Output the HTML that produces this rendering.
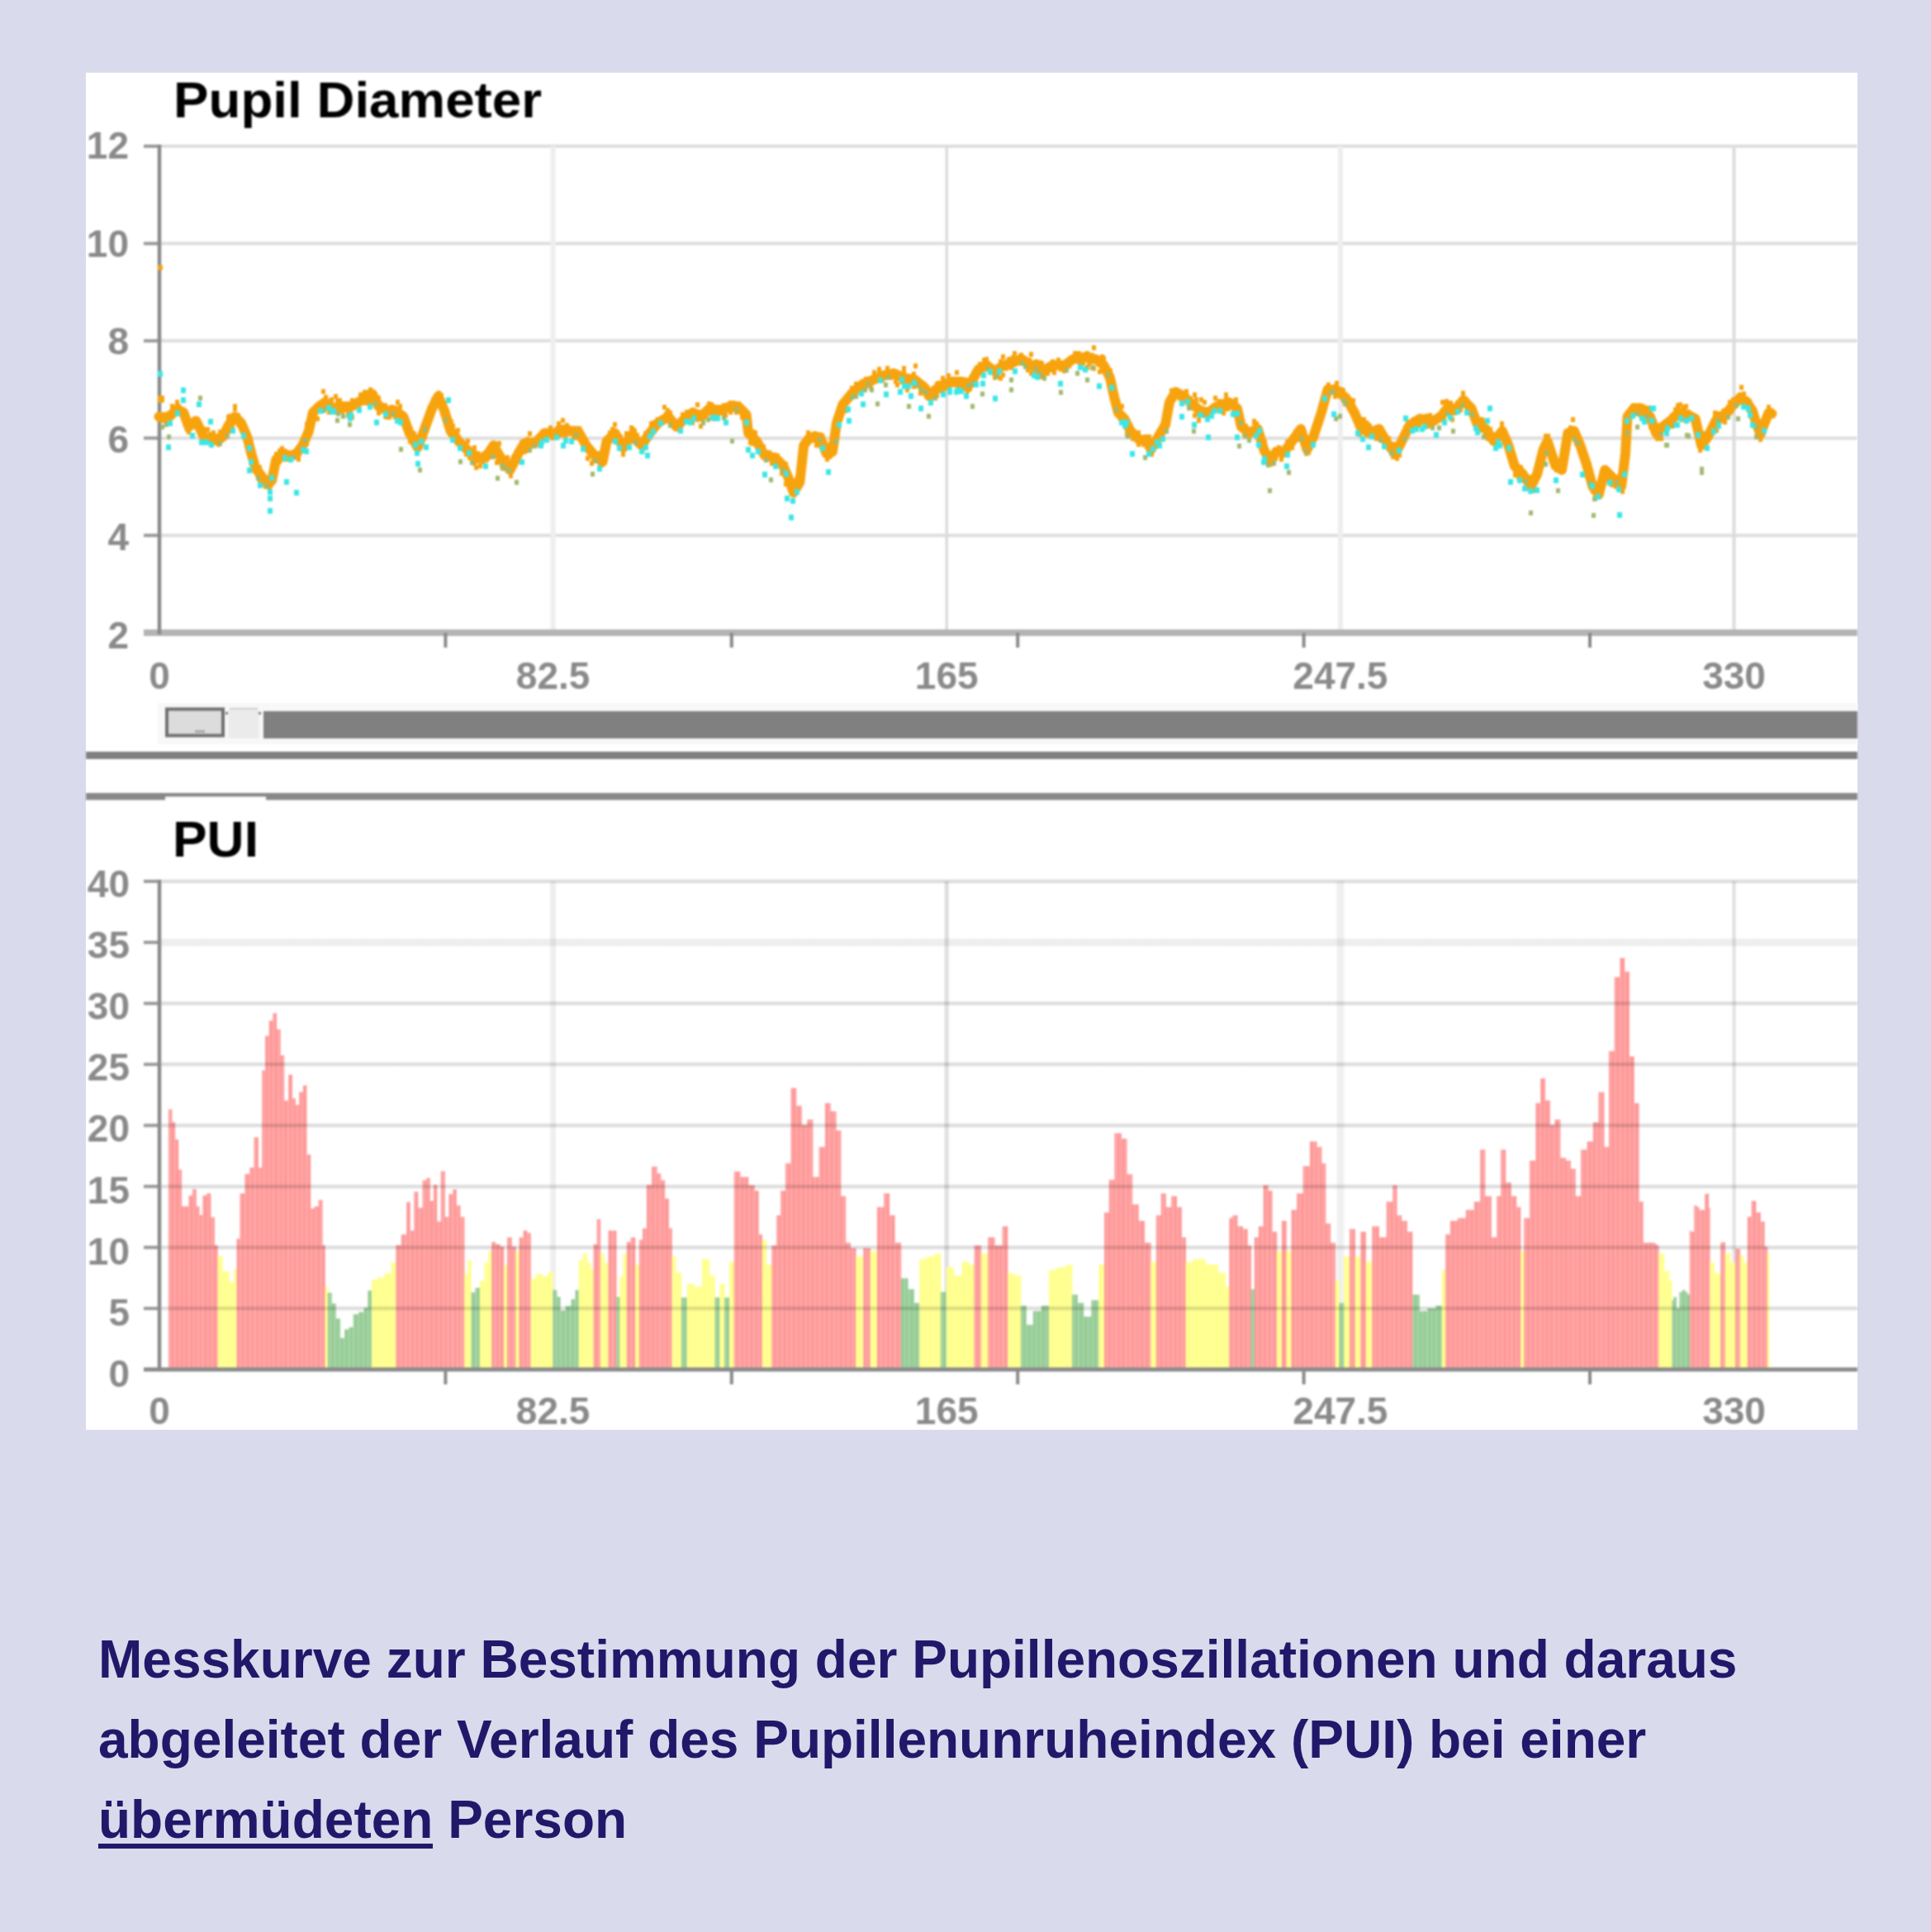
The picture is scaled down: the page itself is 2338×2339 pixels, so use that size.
<!DOCTYPE html><html><head><meta charset="utf-8"><style>
html,body{margin:0;padding:0;background:#DADAED;width:2338px;height:2339px;overflow:hidden}
svg{position:absolute;left:0;top:0;filter:blur(1px)}
.cap{position:absolute;left:119px;top:1961px;width:2150px;font:bold 64px/96.8px "Liberation Sans",sans-serif;color:#22186a;white-space:nowrap}
.cap u{text-decoration:none}
.ul{position:absolute;left:119px;top:2232px;width:405px;height:6px;background:#22186a}
</style></head><body>
<div style="position:absolute;left:104px;top:88px;width:2145px;height:1643px;background:#fff"></div>
<svg width="2338" height="2339" viewBox="0 0 2338 2339">

<line x1="193" y1="177.0" x2="2249" y2="177.0" stroke="#dedede" stroke-width="4"/>
<line x1="174" y1="177.0" x2="193" y2="177.0" stroke="#9a9a9a" stroke-width="4"/>
<line x1="193" y1="294.8" x2="2249" y2="294.8" stroke="#dedede" stroke-width="4"/>
<line x1="174" y1="294.8" x2="193" y2="294.8" stroke="#9a9a9a" stroke-width="4"/>
<line x1="193" y1="412.6" x2="2249" y2="412.6" stroke="#dedede" stroke-width="4"/>
<line x1="174" y1="412.6" x2="193" y2="412.6" stroke="#9a9a9a" stroke-width="4"/>
<line x1="193" y1="530.4" x2="2249" y2="530.4" stroke="#dedede" stroke-width="4"/>
<line x1="174" y1="530.4" x2="193" y2="530.4" stroke="#9a9a9a" stroke-width="4"/>
<line x1="193" y1="648.2" x2="2249" y2="648.2" stroke="#dedede" stroke-width="4"/>
<line x1="174" y1="648.2" x2="193" y2="648.2" stroke="#9a9a9a" stroke-width="4"/>
<line x1="669.6" y1="177" x2="669.6" y2="766" stroke="#eeeeee" stroke-width="6"/>
<line x1="1146.2" y1="177" x2="1146.2" y2="766" stroke="#dcdcdc" stroke-width="3.5"/>
<line x1="1622.9" y1="177" x2="1622.9" y2="766" stroke="#eeeeee" stroke-width="6"/>
<line x1="2099.5" y1="177" x2="2099.5" y2="766" stroke="#dcdcdc" stroke-width="4"/>
<line x1="174" y1="766" x2="2249" y2="766" stroke="#b4b4b4" stroke-width="8"/>
<line x1="193" y1="175" x2="193" y2="768" stroke="#8a8a8a" stroke-width="4.5"/>
<line x1="539.4" y1="766" x2="539.4" y2="784" stroke="#8a8a8a" stroke-width="4"/>
<line x1="885.8" y1="766" x2="885.8" y2="784" stroke="#8a8a8a" stroke-width="4"/>
<line x1="1232.2" y1="766" x2="1232.2" y2="784" stroke="#8a8a8a" stroke-width="4"/>
<line x1="1578.6" y1="766" x2="1578.6" y2="784" stroke="#8a8a8a" stroke-width="4"/>
<line x1="1925.0" y1="766" x2="1925.0" y2="784" stroke="#8a8a8a" stroke-width="4"/>
<text x="156" y="192.0" text-anchor="end" font-family="Liberation Sans" font-weight="bold" font-size="46" fill="#8a8a8a">12</text>
<text x="156" y="310.6" text-anchor="end" font-family="Liberation Sans" font-weight="bold" font-size="46" fill="#8a8a8a">10</text>
<text x="156" y="429.2" text-anchor="end" font-family="Liberation Sans" font-weight="bold" font-size="46" fill="#8a8a8a">8</text>
<text x="156" y="547.8" text-anchor="end" font-family="Liberation Sans" font-weight="bold" font-size="46" fill="#8a8a8a">6</text>
<text x="156" y="666.4" text-anchor="end" font-family="Liberation Sans" font-weight="bold" font-size="46" fill="#8a8a8a">4</text>
<text x="156" y="785.0" text-anchor="end" font-family="Liberation Sans" font-weight="bold" font-size="46" fill="#8a8a8a">2</text>
<text x="193.0" y="834" text-anchor="middle" font-family="Liberation Sans" font-weight="bold" font-size="46" fill="#8a8a8a">0</text>
<text x="669.6" y="834" text-anchor="middle" font-family="Liberation Sans" font-weight="bold" font-size="46" fill="#8a8a8a">82.5</text>
<text x="1146.2" y="834" text-anchor="middle" font-family="Liberation Sans" font-weight="bold" font-size="46" fill="#8a8a8a">165</text>
<text x="1622.9" y="834" text-anchor="middle" font-family="Liberation Sans" font-weight="bold" font-size="46" fill="#8a8a8a">247.5</text>
<text x="2099.5" y="834" text-anchor="middle" font-family="Liberation Sans" font-weight="bold" font-size="46" fill="#8a8a8a">330</text>
<text x="210" y="142" font-family="Liberation Sans" font-weight="bold" font-size="61" textLength="446" lengthAdjust="spacingAndGlyphs" fill="#000">Pupil Diameter</text>
<rect x="191" y="851" width="2058" height="50" fill="#f8f8f8"/>
<rect x="319" y="861" width="1930" height="33" fill="#808080"/>
<rect x="202" y="858.5" width="68" height="32" fill="#dcdcdc" stroke="#707070" stroke-width="4"/>
<rect x="276.5" y="858" width="37" height="36" rx="3" fill="#ebebeb"/>
<rect x="278" y="857" width="34" height="2" fill="#cfcfcf"/>
<rect x="273" y="862" width="3" height="3" fill="#808080"/><rect x="313" y="862" width="3" height="3" fill="#808080"/>
<rect x="236" y="884" width="12" height="3" fill="#a8a8a8"/>
<rect x="104" y="910" width="2145" height="9" fill="#808080"/>
<rect x="104" y="960" width="2145" height="4.5" fill="#888"/>
<rect x="104" y="964" width="96" height="4.5" fill="#888"/>
<rect x="322" y="964" width="1927" height="4.5" fill="#888"/>
<line x1="669.6" y1="1067" x2="669.6" y2="1658" stroke="#eeeeee" stroke-width="7"/>
<line x1="1146.2" y1="1067" x2="1146.2" y2="1658" stroke="#dddddd" stroke-width="5"/>
<line x1="1622.9" y1="1067" x2="1622.9" y2="1658" stroke="#efefef" stroke-width="9"/>
<line x1="2099.5" y1="1067" x2="2099.5" y2="1658" stroke="#e0e0e0" stroke-width="4"/>
<g fill-opacity="0.92"><rect x="204.0" y="1342.9" width="4.4" height="315.1" fill="#ff8f8f"/><rect x="208.1" y="1358.6" width="4.2" height="299.4" fill="#ff8f8f"/><rect x="212.0" y="1379.5" width="4.2" height="278.5" fill="#ff8f8f"/><rect x="215.9" y="1416.1" width="4.2" height="241.9" fill="#ff8f8f"/><rect x="219.8" y="1460.5" width="4.2" height="197.5" fill="#ff8f8f"/><rect x="223.7" y="1460.5" width="4.9" height="197.5" fill="#ff8f8f"/><rect x="228.3" y="1447.4" width="4.9" height="210.6" fill="#ff8f8f"/><rect x="232.9" y="1439.6" width="4.9" height="218.4" fill="#ff8f8f"/><rect x="237.5" y="1460.5" width="4.2" height="197.5" fill="#ff8f8f"/><rect x="241.4" y="1470.9" width="4.2" height="187.1" fill="#ff8f8f"/><rect x="245.3" y="1447.4" width="4.9" height="210.6" fill="#ff8f8f"/><rect x="249.9" y="1444.8" width="5.5" height="213.2" fill="#ff8f8f"/><rect x="255.1" y="1473.6" width="4.9" height="184.4" fill="#ff8f8f"/><rect x="259.7" y="1507.5" width="4.2" height="150.5" fill="#ff8f8f"/><rect x="263.6" y="1520.6" width="6.2" height="137.4" fill="#ffff80"/><rect x="269.5" y="1538.9" width="8.1" height="119.1" fill="#ffff80"/><rect x="277.3" y="1552.0" width="6.2" height="106.0" fill="#ffff80"/><rect x="283.2" y="1536.3" width="3.6" height="121.7" fill="#ffff80"/><rect x="286.5" y="1499.7" width="4.2" height="158.3" fill="#ff8f8f"/><rect x="290.4" y="1444.8" width="6.2" height="213.2" fill="#ff8f8f"/><rect x="296.3" y="1421.3" width="6.2" height="236.7" fill="#ff8f8f"/><rect x="302.1" y="1413.5" width="5.5" height="244.5" fill="#ff8f8f"/><rect x="307.4" y="1376.9" width="5.5" height="281.1" fill="#ff8f8f"/><rect x="312.6" y="1413.5" width="4.9" height="244.5" fill="#ff8f8f"/><rect x="317.2" y="1295.9" width="4.2" height="362.1" fill="#ff8f8f"/><rect x="321.1" y="1254.1" width="4.9" height="403.9" fill="#ff8f8f"/><rect x="325.6" y="1235.8" width="4.9" height="422.2" fill="#ff8f8f"/><rect x="330.2" y="1226.6" width="4.9" height="431.4" fill="#ff8f8f"/><rect x="334.8" y="1246.2" width="4.9" height="411.8" fill="#ff8f8f"/><rect x="339.4" y="1277.6" width="4.9" height="380.4" fill="#ff8f8f"/><rect x="343.9" y="1332.5" width="5.5" height="325.5" fill="#ff8f8f"/><rect x="349.2" y="1301.1" width="4.9" height="356.9" fill="#ff8f8f"/><rect x="353.7" y="1329.8" width="4.2" height="328.2" fill="#ff8f8f"/><rect x="357.7" y="1337.7" width="4.9" height="320.3" fill="#ff8f8f"/><rect x="362.2" y="1322.0" width="4.9" height="336.0" fill="#ff8f8f"/><rect x="366.8" y="1314.2" width="4.9" height="343.8" fill="#ff8f8f"/><rect x="371.4" y="1397.8" width="4.9" height="260.2" fill="#ff8f8f"/><rect x="376.0" y="1463.1" width="4.9" height="194.9" fill="#ff8f8f"/><rect x="380.5" y="1460.5" width="5.5" height="197.5" fill="#ff8f8f"/><rect x="385.7" y="1452.7" width="4.9" height="205.3" fill="#ff8f8f"/><rect x="390.3" y="1507.5" width="3.6" height="150.5" fill="#ff8f8f"/><rect x="393.6" y="1557.2" width="3.6" height="100.8" fill="#ffff80"/><rect x="396.9" y="1565.0" width="4.9" height="93.0" fill="#8cc88c"/><rect x="401.4" y="1578.1" width="5.5" height="79.9" fill="#8cc88c"/><rect x="406.7" y="1596.4" width="5.5" height="61.6" fill="#8cc88c"/><rect x="411.9" y="1619.9" width="5.5" height="38.1" fill="#8cc88c"/><rect x="417.1" y="1609.4" width="5.5" height="48.6" fill="#8cc88c"/><rect x="422.3" y="1606.8" width="5.5" height="51.2" fill="#8cc88c"/><rect x="427.6" y="1591.1" width="6.8" height="66.9" fill="#8cc88c"/><rect x="434.1" y="1588.5" width="6.8" height="69.5" fill="#8cc88c"/><rect x="440.6" y="1583.3" width="4.9" height="74.7" fill="#8cc88c"/><rect x="445.2" y="1562.4" width="4.9" height="95.6" fill="#8cc88c"/><rect x="449.8" y="1549.3" width="7.5" height="108.7" fill="#ffff80"/><rect x="457.0" y="1546.7" width="8.8" height="111.3" fill="#ffff80"/><rect x="465.4" y="1541.5" width="8.1" height="116.5" fill="#ffff80"/><rect x="473.3" y="1528.4" width="6.2" height="129.6" fill="#ffff80"/><rect x="479.2" y="1507.5" width="6.8" height="150.5" fill="#ff8f8f"/><rect x="485.7" y="1494.5" width="6.8" height="163.5" fill="#ff8f8f"/><rect x="492.2" y="1455.3" width="4.7" height="202.7" fill="#ff8f8f"/><rect x="496.7" y="1489.8" width="4.9" height="168.2" fill="#ff8f8f"/><rect x="501.2" y="1442.8" width="5.1" height="215.2" fill="#ff8f8f"/><rect x="506.1" y="1462.2" width="5.8" height="195.8" fill="#ff8f8f"/><rect x="511.6" y="1428.9" width="5.1" height="229.1" fill="#ff8f8f"/><rect x="516.5" y="1426.2" width="4.5" height="231.8" fill="#ff8f8f"/><rect x="520.6" y="1453.9" width="4.5" height="204.1" fill="#ff8f8f"/><rect x="524.8" y="1434.5" width="4.5" height="223.5" fill="#ff8f8f"/><rect x="528.9" y="1478.8" width="5.1" height="179.2" fill="#ff8f8f"/><rect x="533.8" y="1417.9" width="5.1" height="240.1" fill="#ff8f8f"/><rect x="538.6" y="1473.2" width="5.1" height="184.8" fill="#ff8f8f"/><rect x="543.4" y="1445.6" width="5.1" height="212.4" fill="#ff8f8f"/><rect x="548.3" y="1440.0" width="4.5" height="218.0" fill="#ff8f8f"/><rect x="552.4" y="1459.4" width="5.1" height="198.6" fill="#ff8f8f"/><rect x="557.3" y="1473.2" width="5.1" height="184.8" fill="#ff8f8f"/><rect x="562.1" y="1542.4" width="4.5" height="115.6" fill="#ffff80"/><rect x="566.3" y="1525.8" width="4.5" height="132.2" fill="#ffff80"/><rect x="570.4" y="1564.6" width="5.1" height="93.4" fill="#8cc88c"/><rect x="575.3" y="1559.0" width="5.8" height="99.0" fill="#8cc88c"/><rect x="580.8" y="1550.7" width="5.8" height="107.3" fill="#ffff80"/><rect x="586.3" y="1528.6" width="5.1" height="129.4" fill="#ffff80"/><rect x="591.2" y="1514.8" width="4.5" height="143.2" fill="#ffff80"/><rect x="595.3" y="1503.7" width="5.1" height="154.3" fill="#ff8f8f"/><rect x="600.2" y="1506.4" width="5.8" height="151.6" fill="#ff8f8f"/><rect x="605.7" y="1509.2" width="4.5" height="148.8" fill="#ff8f8f"/><rect x="609.9" y="1531.4" width="4.5" height="126.6" fill="#ffff80"/><rect x="614.0" y="1498.1" width="5.8" height="159.9" fill="#ff8f8f"/><rect x="619.6" y="1509.2" width="5.1" height="148.8" fill="#ff8f8f"/><rect x="624.4" y="1514.8" width="4.5" height="143.2" fill="#ffff80"/><rect x="628.6" y="1498.1" width="5.1" height="159.9" fill="#ff8f8f"/><rect x="633.4" y="1489.8" width="5.1" height="168.2" fill="#ff8f8f"/><rect x="638.2" y="1492.6" width="4.5" height="165.4" fill="#ff8f8f"/><rect x="642.4" y="1548.0" width="6.5" height="110.0" fill="#ffff80"/><rect x="648.6" y="1542.4" width="8.6" height="115.6" fill="#ffff80"/><rect x="656.9" y="1545.2" width="7.2" height="112.8" fill="#ffff80"/><rect x="663.8" y="1539.7" width="5.8" height="118.3" fill="#ffff80"/><rect x="669.4" y="1561.8" width="5.1" height="96.2" fill="#8cc88c"/><rect x="674.2" y="1570.1" width="4.5" height="87.9" fill="#8cc88c"/><rect x="678.4" y="1586.7" width="6.5" height="71.3" fill="#8cc88c"/><rect x="684.6" y="1581.2" width="7.2" height="76.8" fill="#8cc88c"/><rect x="691.5" y="1572.9" width="5.1" height="85.1" fill="#8cc88c"/><rect x="696.4" y="1561.8" width="4.5" height="96.2" fill="#8cc88c"/><rect x="700.5" y="1525.8" width="5.1" height="132.2" fill="#ffff80"/><rect x="705.4" y="1517.5" width="5.8" height="140.5" fill="#ffff80"/><rect x="710.9" y="1528.6" width="4.5" height="129.4" fill="#ffff80"/><rect x="715.1" y="1536.9" width="3.8" height="121.1" fill="#ffff80"/><rect x="718.5" y="1506.4" width="4.5" height="151.6" fill="#ff8f8f"/><rect x="722.7" y="1476.0" width="4.5" height="182.0" fill="#ff8f8f"/><rect x="726.8" y="1517.5" width="5.1" height="140.5" fill="#ffff80"/><rect x="731.7" y="1528.6" width="5.1" height="129.4" fill="#ffff80"/><rect x="736.5" y="1489.8" width="5.1" height="168.2" fill="#ff8f8f"/><rect x="741.4" y="1489.8" width="5.1" height="168.2" fill="#ff8f8f"/><rect x="746.2" y="1570.1" width="4.5" height="87.9" fill="#8cc88c"/><rect x="750.3" y="1545.2" width="4.5" height="112.8" fill="#ffff80"/><rect x="754.5" y="1517.5" width="4.5" height="140.5" fill="#ffff80"/><rect x="758.7" y="1503.7" width="5.1" height="154.3" fill="#ff8f8f"/><rect x="763.5" y="1498.1" width="5.8" height="159.9" fill="#ff8f8f"/><rect x="769.0" y="1531.4" width="5.1" height="126.6" fill="#ffff80"/><rect x="773.9" y="1500.9" width="4.5" height="157.1" fill="#ff8f8f"/><rect x="778.0" y="1487.1" width="5.1" height="170.9" fill="#ff8f8f"/><rect x="782.9" y="1434.5" width="6.5" height="223.5" fill="#ff8f8f"/><rect x="789.1" y="1412.3" width="6.5" height="245.7" fill="#ff8f8f"/><rect x="795.3" y="1420.6" width="5.1" height="237.4" fill="#ff8f8f"/><rect x="800.2" y="1428.9" width="5.1" height="229.1" fill="#ff8f8f"/><rect x="805.0" y="1451.1" width="5.1" height="206.9" fill="#ff8f8f"/><rect x="809.9" y="1487.1" width="3.9" height="170.9" fill="#ff8f8f"/><rect x="813.5" y="1521.1" width="5.1" height="136.9" fill="#ffff80"/><rect x="818.3" y="1540.9" width="6.9" height="117.1" fill="#ffff80"/><rect x="824.9" y="1570.8" width="6.9" height="87.2" fill="#8cc88c"/><rect x="831.6" y="1554.2" width="8.6" height="103.8" fill="#ffff80"/><rect x="839.9" y="1557.5" width="10.2" height="100.5" fill="#ffff80"/><rect x="849.8" y="1524.4" width="9.4" height="133.6" fill="#ffff80"/><rect x="858.9" y="1544.2" width="6.9" height="113.8" fill="#ffff80"/><rect x="865.5" y="1570.8" width="6.1" height="87.2" fill="#8cc88c"/><rect x="871.3" y="1554.2" width="6.1" height="103.8" fill="#ffff80"/><rect x="877.1" y="1570.8" width="6.1" height="87.2" fill="#8cc88c"/><rect x="882.9" y="1527.7" width="6.1" height="130.3" fill="#ffff80"/><rect x="888.7" y="1418.3" width="7.8" height="239.7" fill="#ff8f8f"/><rect x="896.2" y="1424.9" width="10.2" height="233.1" fill="#ff8f8f"/><rect x="906.1" y="1434.9" width="7.8" height="223.1" fill="#ff8f8f"/><rect x="913.6" y="1441.5" width="5.3" height="216.5" fill="#ff8f8f"/><rect x="918.6" y="1494.5" width="4.4" height="163.5" fill="#ff8f8f"/><rect x="922.7" y="1501.2" width="5.3" height="156.8" fill="#ffff80"/><rect x="927.7" y="1531.0" width="6.9" height="127.0" fill="#ffff80"/><rect x="934.3" y="1507.8" width="6.1" height="150.2" fill="#ff8f8f"/><rect x="940.1" y="1471.3" width="5.3" height="186.7" fill="#ff8f8f"/><rect x="945.1" y="1441.5" width="6.1" height="216.5" fill="#ff8f8f"/><rect x="950.9" y="1408.4" width="6.9" height="249.6" fill="#ff8f8f"/><rect x="957.5" y="1317.2" width="6.9" height="340.8" fill="#ff8f8f"/><rect x="964.1" y="1338.8" width="6.9" height="319.2" fill="#ff8f8f"/><rect x="970.8" y="1362.0" width="6.9" height="296.0" fill="#ff8f8f"/><rect x="977.4" y="1355.4" width="6.9" height="302.6" fill="#ff8f8f"/><rect x="984.0" y="1424.9" width="7.8" height="233.1" fill="#ff8f8f"/><rect x="991.5" y="1388.5" width="7.8" height="269.5" fill="#ff8f8f"/><rect x="998.9" y="1335.5" width="6.9" height="322.5" fill="#ff8f8f"/><rect x="1005.6" y="1345.4" width="6.9" height="312.6" fill="#ff8f8f"/><rect x="1012.2" y="1368.6" width="6.1" height="289.4" fill="#ff8f8f"/><rect x="1018.0" y="1448.1" width="6.1" height="209.9" fill="#ff8f8f"/><rect x="1023.8" y="1504.5" width="6.1" height="153.5" fill="#ff8f8f"/><rect x="1029.6" y="1511.1" width="6.9" height="146.9" fill="#ff8f8f"/><rect x="1036.2" y="1521.1" width="9.4" height="136.9" fill="#ffff80"/><rect x="1045.3" y="1511.1" width="8.6" height="146.9" fill="#ff8f8f"/><rect x="1053.6" y="1514.4" width="8.6" height="143.6" fill="#ffff80"/><rect x="1061.9" y="1461.4" width="8.6" height="196.6" fill="#ff8f8f"/><rect x="1070.2" y="1444.8" width="6.9" height="213.2" fill="#ff8f8f"/><rect x="1076.8" y="1471.3" width="6.9" height="186.7" fill="#ff8f8f"/><rect x="1083.4" y="1504.5" width="7.8" height="153.5" fill="#ff8f8f"/><rect x="1090.9" y="1547.6" width="8.6" height="110.4" fill="#8cc88c"/><rect x="1099.2" y="1560.8" width="7.8" height="97.2" fill="#8cc88c"/><rect x="1106.6" y="1577.4" width="6.9" height="80.6" fill="#8cc88c"/><rect x="1113.3" y="1524.4" width="8.6" height="133.6" fill="#ffff80"/><rect x="1121.5" y="1521.1" width="10.2" height="136.9" fill="#ffff80"/><rect x="1131.5" y="1517.7" width="7.8" height="140.3" fill="#ffff80"/><rect x="1138.9" y="1564.1" width="6.9" height="93.9" fill="#8cc88c"/><rect x="1145.6" y="1534.3" width="9.4" height="123.7" fill="#ffff80"/><rect x="1154.7" y="1544.2" width="10.2" height="113.8" fill="#ffff80"/><rect x="1164.6" y="1527.7" width="8.6" height="130.3" fill="#ffff80"/><rect x="1172.9" y="1531.0" width="6.9" height="127.0" fill="#ffff80"/><rect x="1179.5" y="1507.8" width="8.6" height="150.2" fill="#ff8f8f"/><rect x="1187.8" y="1517.7" width="8.6" height="140.3" fill="#ffff80"/><rect x="1196.1" y="1497.9" width="8.6" height="160.1" fill="#ff8f8f"/><rect x="1204.4" y="1507.8" width="9.4" height="150.2" fill="#ff8f8f"/><rect x="1213.5" y="1484.6" width="6.9" height="173.4" fill="#ff8f8f"/><rect x="1220.1" y="1540.9" width="7.8" height="117.1" fill="#ffff80"/><rect x="1227.6" y="1544.2" width="8.6" height="113.8" fill="#ffff80"/><rect x="1235.9" y="1580.7" width="6.9" height="77.3" fill="#8cc88c"/><rect x="1242.5" y="1603.9" width="8.6" height="54.1" fill="#8cc88c"/><rect x="1250.8" y="1587.3" width="10.2" height="70.7" fill="#8cc88c"/><rect x="1260.7" y="1580.7" width="9.4" height="77.3" fill="#8cc88c"/><rect x="1269.8" y="1537.6" width="10.2" height="120.4" fill="#ffff80"/><rect x="1279.8" y="1534.3" width="11.1" height="123.7" fill="#ffff80"/><rect x="1290.6" y="1531.0" width="7.8" height="127.0" fill="#ffff80"/><rect x="1298.0" y="1567.4" width="6.9" height="90.6" fill="#8cc88c"/><rect x="1304.6" y="1577.4" width="7.8" height="80.6" fill="#8cc88c"/><rect x="1312.1" y="1594.0" width="9.4" height="64.0" fill="#8cc88c"/><rect x="1321.2" y="1574.1" width="9.4" height="83.9" fill="#8cc88c"/><rect x="1330.3" y="1531.0" width="6.9" height="127.0" fill="#ffff80"/><rect x="1337.0" y="1468.0" width="6.1" height="190.0" fill="#ff8f8f"/><rect x="1342.8" y="1428.3" width="6.9" height="229.7" fill="#ff8f8f"/><rect x="1349.4" y="1371.9" width="8.6" height="286.1" fill="#ff8f8f"/><rect x="1357.7" y="1378.5" width="6.9" height="279.5" fill="#ff8f8f"/><rect x="1364.3" y="1421.6" width="6.9" height="236.4" fill="#ff8f8f"/><rect x="1370.9" y="1458.1" width="7.8" height="199.9" fill="#ff8f8f"/><rect x="1378.4" y="1478.0" width="7.8" height="180.0" fill="#ff8f8f"/><rect x="1385.8" y="1504.5" width="7.8" height="153.5" fill="#ff8f8f"/><rect x="1393.3" y="1527.7" width="6.9" height="130.3" fill="#ffff80"/><rect x="1399.9" y="1471.3" width="6.1" height="186.7" fill="#ff8f8f"/><rect x="1405.7" y="1444.8" width="6.1" height="213.2" fill="#ff8f8f"/><rect x="1411.5" y="1461.4" width="6.9" height="196.6" fill="#ff8f8f"/><rect x="1418.1" y="1448.1" width="6.9" height="209.9" fill="#ff8f8f"/><rect x="1424.8" y="1461.4" width="6.1" height="196.6" fill="#ff8f8f"/><rect x="1430.6" y="1497.9" width="5.3" height="160.1" fill="#ff8f8f"/><rect x="1435.5" y="1527.7" width="9.4" height="130.3" fill="#ffff80"/><rect x="1444.7" y="1524.4" width="15.4" height="133.6" fill="#ffff80"/><rect x="1459.8" y="1531.0" width="15.4" height="127.0" fill="#ffff80"/><rect x="1474.9" y="1540.9" width="9.4" height="117.1" fill="#ffff80"/><rect x="1484.0" y="1557.5" width="4.4" height="100.5" fill="#ffff80"/><rect x="1488.1" y="1474.7" width="4.4" height="183.3" fill="#ff8f8f"/><rect x="1492.3" y="1471.3" width="6.1" height="186.7" fill="#ff8f8f"/><rect x="1498.1" y="1484.6" width="6.9" height="173.4" fill="#ff8f8f"/><rect x="1504.7" y="1487.9" width="6.1" height="170.1" fill="#ff8f8f"/><rect x="1510.5" y="1507.8" width="4.4" height="150.2" fill="#ff8f8f"/><rect x="1514.7" y="1560.8" width="4.4" height="97.2" fill="#8cc88c"/><rect x="1518.8" y="1497.9" width="5.3" height="160.1" fill="#ff8f8f"/><rect x="1523.8" y="1484.6" width="6.1" height="173.4" fill="#ff8f8f"/><rect x="1529.6" y="1434.9" width="6.1" height="223.1" fill="#ff8f8f"/><rect x="1535.4" y="1441.5" width="5.3" height="216.5" fill="#ff8f8f"/><rect x="1540.3" y="1491.2" width="6.1" height="166.8" fill="#ff8f8f"/><rect x="1546.1" y="1514.4" width="6.1" height="143.6" fill="#ffff80"/><rect x="1551.9" y="1478.0" width="6.1" height="180.0" fill="#ff8f8f"/><rect x="1557.7" y="1514.4" width="6.1" height="143.6" fill="#ffff80"/><rect x="1563.5" y="1464.7" width="6.9" height="193.3" fill="#ff8f8f"/><rect x="1570.2" y="1444.8" width="7.8" height="213.2" fill="#ff8f8f"/><rect x="1577.6" y="1411.7" width="8.6" height="246.3" fill="#ff8f8f"/><rect x="1585.9" y="1381.9" width="8.6" height="276.1" fill="#ff8f8f"/><rect x="1594.2" y="1388.5" width="6.1" height="269.5" fill="#ff8f8f"/><rect x="1600.0" y="1408.4" width="5.3" height="249.6" fill="#ff8f8f"/><rect x="1605.0" y="1481.3" width="6.1" height="176.7" fill="#ff8f8f"/><rect x="1610.8" y="1504.5" width="6.1" height="153.5" fill="#ff8f8f"/><rect x="1616.6" y="1550.9" width="5.3" height="107.1" fill="#ffff80"/><rect x="1621.5" y="1577.4" width="6.1" height="80.6" fill="#8cc88c"/><rect x="1627.3" y="1521.1" width="6.9" height="136.9" fill="#ffff80"/><rect x="1634.0" y="1487.9" width="6.9" height="170.1" fill="#ff8f8f"/><rect x="1640.6" y="1521.1" width="6.9" height="136.9" fill="#ffff80"/><rect x="1647.2" y="1491.2" width="6.9" height="166.8" fill="#ff8f8f"/><rect x="1653.8" y="1527.7" width="7.8" height="130.3" fill="#ffff80"/><rect x="1661.3" y="1484.6" width="8.6" height="173.4" fill="#ff8f8f"/><rect x="1669.6" y="1497.9" width="9.4" height="160.1" fill="#ff8f8f"/><rect x="1678.7" y="1454.8" width="7.8" height="203.2" fill="#ff8f8f"/><rect x="1686.2" y="1434.9" width="5.3" height="223.1" fill="#ff8f8f"/><rect x="1691.1" y="1471.3" width="6.1" height="186.7" fill="#ff8f8f"/><rect x="1696.9" y="1478.0" width="6.9" height="180.0" fill="#ff8f8f"/><rect x="1703.5" y="1491.2" width="6.9" height="166.8" fill="#ff8f8f"/><rect x="1710.2" y="1567.4" width="8.6" height="90.6" fill="#8cc88c"/><rect x="1718.5" y="1587.3" width="10.2" height="70.7" fill="#8cc88c"/><rect x="1728.4" y="1584.0" width="10.2" height="74.0" fill="#8cc88c"/><rect x="1738.3" y="1580.7" width="7.8" height="77.3" fill="#8cc88c"/><rect x="1745.8" y="1537.6" width="4.4" height="120.4" fill="#ffff80"/><rect x="1749.9" y="1494.5" width="6.1" height="163.5" fill="#ff8f8f"/><rect x="1755.7" y="1478.0" width="9.4" height="180.0" fill="#ff8f8f"/><rect x="1764.9" y="1474.7" width="10.2" height="183.3" fill="#ff8f8f"/><rect x="1774.8" y="1464.7" width="10.2" height="193.3" fill="#ff8f8f"/><rect x="1784.7" y="1454.8" width="7.8" height="203.2" fill="#ff8f8f"/><rect x="1792.2" y="1391.8" width="6.1" height="266.2" fill="#ff8f8f"/><rect x="1798.0" y="1448.1" width="7.8" height="209.9" fill="#ff8f8f"/><rect x="1805.5" y="1497.9" width="6.9" height="160.1" fill="#ff8f8f"/><rect x="1812.1" y="1448.1" width="5.3" height="209.9" fill="#ff8f8f"/><rect x="1817.1" y="1391.8" width="6.1" height="266.2" fill="#ff8f8f"/><rect x="1822.9" y="1431.6" width="6.9" height="226.4" fill="#ff8f8f"/><rect x="1829.5" y="1448.1" width="6.9" height="209.9" fill="#ff8f8f"/><rect x="1836.1" y="1461.4" width="5.3" height="196.6" fill="#ff8f8f"/><rect x="1841.1" y="1514.4" width="4.4" height="143.6" fill="#ffff80"/><rect x="1845.2" y="1474.7" width="6.9" height="183.3" fill="#ff8f8f"/><rect x="1851.9" y="1405.1" width="7.8" height="252.9" fill="#ff8f8f"/><rect x="1859.3" y="1335.5" width="6.1" height="322.5" fill="#ff8f8f"/><rect x="1865.1" y="1305.6" width="6.1" height="352.4" fill="#ff8f8f"/><rect x="1870.9" y="1332.2" width="6.1" height="325.8" fill="#ff8f8f"/><rect x="1876.7" y="1362.0" width="6.1" height="296.0" fill="#ff8f8f"/><rect x="1882.5" y="1355.4" width="6.9" height="302.6" fill="#ff8f8f"/><rect x="1889.1" y="1401.7" width="6.9" height="256.3" fill="#ff8f8f"/><rect x="1895.8" y="1405.1" width="6.1" height="252.9" fill="#ff8f8f"/><rect x="1901.6" y="1415.0" width="6.1" height="243.0" fill="#ff8f8f"/><rect x="1907.4" y="1448.1" width="6.9" height="209.9" fill="#ff8f8f"/><rect x="1914.0" y="1391.8" width="7.8" height="266.2" fill="#ff8f8f"/><rect x="1921.4" y="1381.9" width="7.8" height="276.1" fill="#ff8f8f"/><rect x="1928.9" y="1358.7" width="6.9" height="299.3" fill="#ff8f8f"/><rect x="1935.5" y="1322.2" width="6.9" height="335.8" fill="#ff8f8f"/><rect x="1942.2" y="1388.5" width="6.1" height="269.5" fill="#ff8f8f"/><rect x="1948.0" y="1272.5" width="6.9" height="385.5" fill="#ff8f8f"/><rect x="1954.6" y="1183.0" width="6.9" height="475.0" fill="#ff8f8f"/><rect x="1961.2" y="1159.8" width="6.1" height="498.2" fill="#ff8f8f"/><rect x="1967.0" y="1176.4" width="6.1" height="481.6" fill="#ff8f8f"/><rect x="1972.8" y="1279.1" width="6.1" height="378.9" fill="#ff8f8f"/><rect x="1978.6" y="1335.5" width="6.1" height="322.5" fill="#ff8f8f"/><rect x="1984.4" y="1454.8" width="5.3" height="203.2" fill="#ff8f8f"/><rect x="1989.4" y="1504.5" width="7.8" height="153.5" fill="#ff8f8f"/><rect x="1996.8" y="1504.5" width="7.2" height="153.5" fill="#ff8f8f"/><rect x="2003.7" y="1506.4" width="2.8" height="151.6" fill="#ff8f8f"/><rect x="2006.2" y="1507.8" width="2.4" height="150.2" fill="#ff8f8f"/><rect x="2008.3" y="1517.5" width="2.8" height="140.5" fill="#ffff80"/><rect x="2010.7" y="1517.7" width="4.5" height="140.3" fill="#ffff80"/><rect x="2014.9" y="1539.7" width="3.6" height="118.3" fill="#ffff80"/><rect x="2018.2" y="1537.6" width="3.1" height="120.4" fill="#ffff80"/><rect x="2021.0" y="1550.7" width="3.6" height="107.3" fill="#ffff80"/><rect x="2024.3" y="1574.1" width="2.4" height="83.9" fill="#8cc88c"/><rect x="2026.4" y="1570.1" width="3.7" height="87.9" fill="#8cc88c"/><rect x="2029.8" y="1584.0" width="3.9" height="74.0" fill="#8cc88c"/><rect x="2033.4" y="1564.1" width="3.8" height="93.9" fill="#8cc88c"/><rect x="2036.9" y="1561.8" width="3.6" height="96.2" fill="#8cc88c"/><rect x="2040.2" y="1564.1" width="3.1" height="93.9" fill="#8cc88c"/><rect x="2043.0" y="1567.3" width="3.1" height="90.7" fill="#8cc88c"/><rect x="2045.7" y="1489.8" width="2.2" height="168.2" fill="#ff8f8f"/><rect x="2047.7" y="1491.2" width="3.8" height="166.8" fill="#ff8f8f"/><rect x="2051.1" y="1459.4" width="3.6" height="198.6" fill="#ff8f8f"/><rect x="2054.4" y="1461.4" width="3.1" height="196.6" fill="#ff8f8f"/><rect x="2057.2" y="1464.9" width="3.6" height="193.1" fill="#ff8f8f"/><rect x="2060.5" y="1464.7" width="3.8" height="193.3" fill="#ff8f8f"/><rect x="2064.0" y="1445.6" width="3.6" height="212.4" fill="#ff8f8f"/><rect x="2067.3" y="1444.8" width="1.7" height="213.2" fill="#ff8f8f"/><rect x="2068.7" y="1462.2" width="2.0" height="195.8" fill="#ff8f8f"/><rect x="2070.3" y="1527.7" width="2.4" height="130.3" fill="#ffff80"/><rect x="2072.4" y="1528.6" width="3.6" height="129.4" fill="#ffff80"/><rect x="2075.7" y="1540.9" width="4.5" height="117.1" fill="#ffff80"/><rect x="2079.9" y="1542.4" width="3.6" height="115.6" fill="#ffff80"/><rect x="2083.2" y="1504.5" width="2.4" height="153.5" fill="#ff8f8f"/><rect x="2085.3" y="1503.7" width="3.7" height="154.3" fill="#ff8f8f"/><rect x="2088.6" y="1517.5" width="6.5" height="140.5" fill="#ffff80"/><rect x="2094.9" y="1528.6" width="6.5" height="129.4" fill="#ffff80"/><rect x="2101.1" y="1512.0" width="5.8" height="146.0" fill="#ff8f8f"/><rect x="2106.6" y="1520.3" width="5.1" height="137.7" fill="#ffff80"/><rect x="2111.5" y="1528.6" width="4.5" height="129.4" fill="#ffff80"/><rect x="2115.6" y="1473.2" width="5.1" height="184.8" fill="#ff8f8f"/><rect x="2120.5" y="1453.9" width="5.8" height="204.1" fill="#ff8f8f"/><rect x="2126.0" y="1467.7" width="5.8" height="190.3" fill="#ff8f8f"/><rect x="2131.5" y="1478.8" width="5.1" height="179.2" fill="#ff8f8f"/><rect x="2136.4" y="1509.2" width="3.8" height="148.8" fill="#ff8f8f"/><rect x="2139.8" y="1517.5" width="2.5" height="140.5" fill="#ffff80"/></g>
<defs><pattern id="stp" width="5.7" height="20" patternUnits="userSpaceOnUse"><rect x="0" width="1.6" height="20" fill="#fff" fill-opacity="0.22"/></pattern></defs>
<rect x="204" y="1140" width="1940" height="518" fill="url(#stp)"/>
<line x1="193" y1="1067.0" x2="2249" y2="1067.0" stroke="#000" stroke-opacity="0.13" stroke-width="4.5"/>
<line x1="174" y1="1067.0" x2="193" y2="1067.0" stroke="#9a9a9a" stroke-width="4"/>
<line x1="193" y1="1140.9" x2="2249" y2="1140.9" stroke="#000" stroke-opacity="0.065" stroke-width="9"/>
<line x1="174" y1="1140.9" x2="193" y2="1140.9" stroke="#9a9a9a" stroke-width="4"/>
<line x1="193" y1="1214.8" x2="2249" y2="1214.8" stroke="#000" stroke-opacity="0.13" stroke-width="4.5"/>
<line x1="174" y1="1214.8" x2="193" y2="1214.8" stroke="#9a9a9a" stroke-width="4"/>
<line x1="193" y1="1288.6" x2="2249" y2="1288.6" stroke="#000" stroke-opacity="0.13" stroke-width="4.5"/>
<line x1="174" y1="1288.6" x2="193" y2="1288.6" stroke="#9a9a9a" stroke-width="4"/>
<line x1="193" y1="1362.5" x2="2249" y2="1362.5" stroke="#000" stroke-opacity="0.13" stroke-width="4.5"/>
<line x1="174" y1="1362.5" x2="193" y2="1362.5" stroke="#9a9a9a" stroke-width="4"/>
<line x1="193" y1="1436.4" x2="2249" y2="1436.4" stroke="#000" stroke-opacity="0.13" stroke-width="4.5"/>
<line x1="174" y1="1436.4" x2="193" y2="1436.4" stroke="#9a9a9a" stroke-width="4"/>
<line x1="193" y1="1510.2" x2="2249" y2="1510.2" stroke="#000" stroke-opacity="0.13" stroke-width="4.5"/>
<line x1="174" y1="1510.2" x2="193" y2="1510.2" stroke="#9a9a9a" stroke-width="4"/>
<line x1="193" y1="1584.1" x2="2249" y2="1584.1" stroke="#000" stroke-opacity="0.13" stroke-width="4.5"/>
<line x1="174" y1="1584.1" x2="193" y2="1584.1" stroke="#9a9a9a" stroke-width="4"/>
<line x1="174" y1="1658" x2="2249" y2="1658" stroke="#8a8a8a" stroke-width="5"/>
<line x1="193" y1="1065" x2="193" y2="1660" stroke="#8a8a8a" stroke-width="4.5"/>
<line x1="539.4" y1="1658" x2="539.4" y2="1676" stroke="#8a8a8a" stroke-width="4"/>
<line x1="885.8" y1="1658" x2="885.8" y2="1676" stroke="#8a8a8a" stroke-width="4"/>
<line x1="1232.2" y1="1658" x2="1232.2" y2="1676" stroke="#8a8a8a" stroke-width="4"/>
<line x1="1578.6" y1="1658" x2="1578.6" y2="1676" stroke="#8a8a8a" stroke-width="4"/>
<line x1="1925.0" y1="1658" x2="1925.0" y2="1676" stroke="#8a8a8a" stroke-width="4"/>
<text x="157" y="1086.0" text-anchor="end" font-family="Liberation Sans" font-weight="bold" font-size="46" fill="#8a8a8a">40</text>
<text x="157" y="1160.1" text-anchor="end" font-family="Liberation Sans" font-weight="bold" font-size="46" fill="#8a8a8a">35</text>
<text x="157" y="1234.2" text-anchor="end" font-family="Liberation Sans" font-weight="bold" font-size="46" fill="#8a8a8a">30</text>
<text x="157" y="1308.3" text-anchor="end" font-family="Liberation Sans" font-weight="bold" font-size="46" fill="#8a8a8a">25</text>
<text x="157" y="1382.4" text-anchor="end" font-family="Liberation Sans" font-weight="bold" font-size="46" fill="#8a8a8a">20</text>
<text x="157" y="1456.5" text-anchor="end" font-family="Liberation Sans" font-weight="bold" font-size="46" fill="#8a8a8a">15</text>
<text x="157" y="1530.6" text-anchor="end" font-family="Liberation Sans" font-weight="bold" font-size="46" fill="#8a8a8a">10</text>
<text x="157" y="1604.7" text-anchor="end" font-family="Liberation Sans" font-weight="bold" font-size="46" fill="#8a8a8a">5</text>
<text x="157" y="1678.8" text-anchor="end" font-family="Liberation Sans" font-weight="bold" font-size="46" fill="#8a8a8a">0</text>
<text x="193.0" y="1724" text-anchor="middle" font-family="Liberation Sans" font-weight="bold" font-size="46" fill="#8a8a8a">0</text>
<text x="669.6" y="1724" text-anchor="middle" font-family="Liberation Sans" font-weight="bold" font-size="46" fill="#8a8a8a">82.5</text>
<text x="1146.2" y="1724" text-anchor="middle" font-family="Liberation Sans" font-weight="bold" font-size="46" fill="#8a8a8a">165</text>
<text x="1622.9" y="1724" text-anchor="middle" font-family="Liberation Sans" font-weight="bold" font-size="46" fill="#8a8a8a">247.5</text>
<text x="2099.5" y="1724" text-anchor="middle" font-family="Liberation Sans" font-weight="bold" font-size="46" fill="#8a8a8a">330</text>
<text x="209" y="1037" font-family="Liberation Sans" font-weight="bold" font-size="62" textLength="104" lengthAdjust="spacingAndGlyphs" fill="#000">PUI</text>
<polyline points="192.5,504.4 194.0,505.0 199.9,506.9 207.4,501.9 214.8,495.7 222.3,499.4 228.5,516.8 237.2,509.4 247.2,529.3 259.6,531.8 269.5,529.3 277.0,514.4 284.4,504.4 291.9,511.9 299.4,529.3 304.3,549.2 309.3,566.6 316.8,576.5 324.2,586.5 329.2,581.5 334.2,556.6 341.6,549.2 351.6,551.6 359.0,549.2 366.5,539.2 373.9,521.8 378.9,499.4 386.4,492.0 393.8,487.0 403.8,494.5 413.7,492.0 423.7,492.0 433.6,487.0 443.5,482.0 451.0,477.1 458.5,492.0 468.4,497.0 478.3,497.0 488.3,504.4 495.8,524.3 505.7,541.7 513.2,521.8 523.1,494.5 530.6,479.6 538.0,497.0 545.5,521.8 555.4,534.2 565.4,544.2 577.8,554.1 587.7,554.1 597.7,539.2 607.6,556.6 617.6,569.0 627.5,549.2 635.0,536.7 647.4,536.7 659.8,524.3 669.9,524.3 684.9,521.8 699.8,521.8 709.7,539.2 719.7,551.6 729.6,559.1 734.6,534.2 744.5,524.3 754.5,541.7 764.4,526.8 776.8,539.2 786.8,524.3 796.7,511.9 809.2,504.4 819.1,516.8 829.0,506.9 839.0,499.4 848.9,504.4 858.9,494.5 871.3,497.0 883.7,492.0 893.7,492.0 903.6,501.9 906.1,524.3 916.1,534.2 926.0,551.6 938.4,554.1 948.4,564.1 955.8,581.5 960.8,596.4 968.3,584.0 973.2,539.2 980.7,529.3 993.1,529.3 1000.6,549.2 1008.0,546.7 1013.0,511.9 1020.5,489.5 1032.9,474.6 1045.3,464.6 1057.8,459.7 1070.2,454.7 1082.6,452.2 1092.6,457.2 1107.5,459.7 1119.9,469.6 1124.9,479.6 1132.3,472.1 1139.8,467.1 1152.4,462.1 1164.9,462.1 1174.8,464.6 1184.7,447.2 1194.7,442.3 1204.6,449.7 1214.6,442.3 1224.5,439.8 1237.0,434.8 1249.4,442.3 1261.8,449.7 1274.2,442.3 1289.2,442.3 1299.1,434.8 1314.0,432.3 1326.5,434.8 1336.4,442.3 1343.9,457.2 1348.8,479.6 1353.8,499.4 1361.3,506.9 1368.7,521.8 1378.7,531.8 1388.6,534.2 1393.6,544.2 1403.5,526.8 1411.0,514.4 1415.9,487.0 1423.4,474.6 1433.3,479.6 1443.3,489.5 1453.2,497.0 1463.2,499.4 1473.1,492.0 1488.0,487.0 1498.0,494.5 1503.0,516.8 1512.9,524.3 1522.8,519.3 1530.3,544.2 1537.8,559.1 1545.2,546.7 1555.2,546.7 1562.6,536.7 1575.0,519.3 1582.5,544.2 1590.0,529.3 1599.9,499.4 1607.4,472.1 1617.3,472.1 1629.9,482.0 1639.9,499.4 1647.3,516.8 1657.3,524.3 1669.7,519.3 1679.7,536.7 1689.6,549.2 1697.1,534.2 1707.0,514.4 1719.4,506.9 1731.9,511.9 1744.3,504.4 1754.2,492.0 1761.7,497.0 1771.6,484.5 1781.6,494.5 1789.0,514.4 1799.0,519.3 1808.9,534.2 1818.9,521.8 1826.3,539.2 1833.8,564.1 1843.7,574.0 1853.7,588.9 1861.1,574.0 1868.6,544.2 1873.6,534.2 1883.5,564.1 1891.0,569.0 1898.4,524.3 1905.9,521.8 1913.3,539.2 1920.8,561.6 1928.3,588.9 1935.7,598.9 1943.2,569.0 1953.1,579.0 1963.1,588.9 1968.0,549.2 1970.5,504.4 1978.0,494.5 1987.9,494.5 1997.9,504.4 2005.3,524.3 2012.8,516.8 2022.7,509.4 2032.7,499.4 2042.6,501.9 2052.6,506.9 2060.0,539.2 2067.5,529.3 2077.4,509.4 2087.4,504.4 2096.8,492.1 2106.8,482.1 2114.2,485.9 2121.7,497.1 2126.7,513.2 2131.6,525.7 2136.6,512.0 2141.6,499.6 2145.3,500.8" fill="none" stroke="#f7a30e" stroke-width="12" stroke-linejoin="round" stroke-linecap="round"/>
<path d="M192 501h5v6h-5zM192 505h5v6h-5zM194 502h5v6h-5zM194 501h5v6h-5zM196 499h5v6h-5zM196 502h5v6h-5zM199 509h5v6h-5zM199 505h5v6h-5zM202 507h5v6h-5zM202 502h5v6h-5zM204 502h5v6h-5zM204 500h5v6h-5zM206 489h5v6h-5zM206 502h5v6h-5zM209 498h5v6h-5zM209 498h5v6h-5zM212 485h5v6h-5zM212 484h5v6h-5zM214 489h5v6h-5zM214 491h5v6h-5zM216 496h5v6h-5zM216 495h5v6h-5zM219 499h5v6h-5zM219 493h5v6h-5zM222 503h5v6h-5zM222 503h5v6h-5zM224 505h5v6h-5zM224 517h5v6h-5zM226 516h5v6h-5zM226 520h5v6h-5zM229 508h5v6h-5zM229 507h5v6h-5zM232 507h5v6h-5zM232 509h5v6h-5zM234 510h5v6h-5zM234 508h5v6h-5zM236 508h5v6h-5zM236 505h5v6h-5zM239 512h5v6h-5zM239 521h5v6h-5zM242 516h5v6h-5zM242 521h5v6h-5zM244 527h5v6h-5zM244 517h5v6h-5zM246 527h5v6h-5zM246 533h5v6h-5zM249 517h5v6h-5zM249 525h5v6h-5zM252 527h5v6h-5zM252 523h5v6h-5zM254 531h5v6h-5zM254 528h5v6h-5zM256 521h5v6h-5zM256 533h5v6h-5zM259 532h5v6h-5zM259 533h5v6h-5zM262 535h5v6h-5zM262 530h5v6h-5zM264 528h5v6h-5zM264 520h5v6h-5zM266 530h5v6h-5zM266 523h5v6h-5zM269 520h5v6h-5zM269 516h5v6h-5zM272 512h5v6h-5zM272 515h5v6h-5zM274 519h5v6h-5zM274 502h5v6h-5zM276 501h5v6h-5zM276 510h5v6h-5zM279 513h5v6h-5zM279 508h5v6h-5zM282 492h5v6h-5zM282 489h5v6h-5zM284 505h5v6h-5zM284 500h5v6h-5zM286 500h5v6h-5zM286 511h5v6h-5zM289 514h5v6h-5zM289 509h5v6h-5zM292 515h5v6h-5zM292 516h5v6h-5zM294 528h5v6h-5zM294 523h5v6h-5zM296 528h5v6h-5zM296 528h5v6h-5zM299 527h5v6h-5zM299 542h5v6h-5zM302 550h5v6h-5zM302 548h5v6h-5zM304 543h5v6h-5zM304 550h5v6h-5zM306 567h5v6h-5zM306 553h5v6h-5zM309 566h5v6h-5zM309 572h5v6h-5zM312 563h5v6h-5zM312 578h5v6h-5zM314 576h5v6h-5zM314 572h5v6h-5zM316 578h5v6h-5zM316 580h5v6h-5zM319 580h5v6h-5zM319 586h5v6h-5zM322 580h5v6h-5zM322 581h5v6h-5zM324 587h5v6h-5zM324 581h5v6h-5zM326 574h5v6h-5zM326 584h5v6h-5zM329 575h5v6h-5zM329 565h5v6h-5zM332 547h5v6h-5zM332 554h5v6h-5zM334 551h5v6h-5zM334 550h5v6h-5zM336 556h5v6h-5zM336 543h5v6h-5zM339 553h5v6h-5zM339 540h5v6h-5zM342 543h5v6h-5zM342 550h5v6h-5zM344 553h5v6h-5zM344 552h5v6h-5zM346 550h5v6h-5zM346 549h5v6h-5zM349 549h5v6h-5zM349 552h5v6h-5zM352 547h5v6h-5zM352 549h5v6h-5zM354 550h5v6h-5zM354 547h5v6h-5zM356 550h5v6h-5zM356 549h5v6h-5zM359 553h5v6h-5zM359 545h5v6h-5zM362 537h5v6h-5zM362 538h5v6h-5zM364 536h5v6h-5zM364 541h5v6h-5zM366 529h5v6h-5zM366 532h5v6h-5zM369 534h5v6h-5zM369 511h5v6h-5zM372 513h5v6h-5zM372 520h5v6h-5zM374 509h5v6h-5zM374 509h5v6h-5zM376 494h5v6h-5zM376 500h5v6h-5zM379 495h5v6h-5zM379 491h5v6h-5zM382 504h5v6h-5zM382 493h5v6h-5zM384 486h5v6h-5zM384 488h5v6h-5zM386 486h5v6h-5zM386 487h5v6h-5zM389 471h5v6h-5zM389 483h5v6h-5zM392 489h5v6h-5zM392 478h5v6h-5zM394 486h5v6h-5zM394 491h5v6h-5zM396 492h5v6h-5zM396 496h5v6h-5zM399 481h5v6h-5zM399 488h5v6h-5zM402 490h5v6h-5zM402 495h5v6h-5zM404 496h5v6h-5zM404 477h5v6h-5zM406 496h5v6h-5zM406 483h5v6h-5zM409 493h5v6h-5zM409 482h5v6h-5zM412 490h5v6h-5zM412 495h5v6h-5zM414 488h5v6h-5zM414 490h5v6h-5zM416 493h5v6h-5zM416 490h5v6h-5zM419 489h5v6h-5zM419 497h5v6h-5zM422 494h5v6h-5zM422 487h5v6h-5zM424 502h5v6h-5zM424 482h5v6h-5zM426 491h5v6h-5zM426 485h5v6h-5zM429 486h5v6h-5zM429 489h5v6h-5zM432 485h5v6h-5zM432 487h5v6h-5zM434 475h5v6h-5zM434 475h5v6h-5zM436 485h5v6h-5zM436 476h5v6h-5zM439 475h5v6h-5zM439 472h5v6h-5zM442 485h5v6h-5zM442 483h5v6h-5zM444 485h5v6h-5zM444 472h5v6h-5zM446 475h5v6h-5zM446 469h5v6h-5zM449 479h5v6h-5zM449 483h5v6h-5zM452 475h5v6h-5zM452 488h5v6h-5zM454 490h5v6h-5zM454 484h5v6h-5zM456 479h5v6h-5zM456 497h5v6h-5zM459 490h5v6h-5zM459 487h5v6h-5zM462 494h5v6h-5zM462 494h5v6h-5zM464 501h5v6h-5zM464 488h5v6h-5zM466 500h5v6h-5zM466 502h5v6h-5zM469 502h5v6h-5zM469 493h5v6h-5zM472 490h5v6h-5zM472 499h5v6h-5zM474 495h5v6h-5zM474 495h5v6h-5zM476 502h5v6h-5zM476 493h5v6h-5zM479 484h5v6h-5zM479 494h5v6h-5zM482 489h5v6h-5zM482 502h5v6h-5zM484 502h5v6h-5zM484 497h5v6h-5zM486 503h5v6h-5zM486 508h5v6h-5zM489 510h5v6h-5zM489 517h5v6h-5zM492 516h5v6h-5zM492 522h5v6h-5zM494 530h5v6h-5zM494 531h5v6h-5zM496 523h5v6h-5zM496 532h5v6h-5zM499 522h5v6h-5zM499 526h5v6h-5zM502 526h5v6h-5zM502 541h5v6h-5zM504 530h5v6h-5zM504 536h5v6h-5zM506 529h5v6h-5zM506 530h5v6h-5zM509 520h5v6h-5zM509 524h5v6h-5zM512 526h5v6h-5zM512 517h5v6h-5zM514 512h5v6h-5zM514 515h5v6h-5zM516 502h5v6h-5zM516 496h5v6h-5zM519 493h5v6h-5zM519 501h5v6h-5zM522 481h5v6h-5zM522 487h5v6h-5zM524 490h5v6h-5zM524 489h5v6h-5zM526 480h5v6h-5zM526 484h5v6h-5zM529 480h5v6h-5zM529 473h5v6h-5zM532 476h5v6h-5zM532 481h5v6h-5zM534 495h5v6h-5zM534 487h5v6h-5zM536 493h5v6h-5zM536 493h5v6h-5zM539 498h5v6h-5zM539 505h5v6h-5zM542 508h5v6h-5zM542 516h5v6h-5zM544 508h5v6h-5zM544 522h5v6h-5zM546 520h5v6h-5zM546 513h5v6h-5zM549 530h5v6h-5zM549 525h5v6h-5zM552 518h5v6h-5zM552 525h5v6h-5zM554 534h5v6h-5zM554 530h5v6h-5zM556 539h5v6h-5zM556 539h5v6h-5zM559 541h5v6h-5zM559 539h5v6h-5zM562 547h5v6h-5zM562 543h5v6h-5zM564 544h5v6h-5zM564 531h5v6h-5zM566 549h5v6h-5zM566 551h5v6h-5zM569 545h5v6h-5zM569 544h5v6h-5zM572 558h5v6h-5zM572 539h5v6h-5zM574 553h5v6h-5zM574 563h5v6h-5zM576 546h5v6h-5zM576 555h5v6h-5zM579 561h5v6h-5zM579 551h5v6h-5zM582 554h5v6h-5zM582 556h5v6h-5zM584 546h5v6h-5zM584 551h5v6h-5zM586 551h5v6h-5zM586 554h5v6h-5zM589 545h5v6h-5zM589 544h5v6h-5zM592 536h5v6h-5zM592 540h5v6h-5zM594 543h5v6h-5zM594 539h5v6h-5zM596 534h5v6h-5zM596 534h5v6h-5zM599 557h5v6h-5zM599 549h5v6h-5zM602 551h5v6h-5zM602 534h5v6h-5zM604 555h5v6h-5zM604 554h5v6h-5zM606 564h5v6h-5zM606 558h5v6h-5zM609 558h5v6h-5zM609 561h5v6h-5zM612 551h5v6h-5zM612 567h5v6h-5zM614 566h5v6h-5zM614 561h5v6h-5zM616 570h5v6h-5zM616 573h5v6h-5zM619 551h5v6h-5zM619 555h5v6h-5zM622 555h5v6h-5zM622 554h5v6h-5zM624 546h5v6h-5zM624 543h5v6h-5zM626 555h5v6h-5zM626 549h5v6h-5zM629 533h5v6h-5zM629 533h5v6h-5zM632 544h5v6h-5zM632 540h5v6h-5zM634 543h5v6h-5zM634 538h5v6h-5zM636 529h5v6h-5zM636 535h5v6h-5zM639 522h5v6h-5zM639 530h5v6h-5zM642 533h5v6h-5zM642 536h5v6h-5zM644 530h5v6h-5zM644 533h5v6h-5zM646 535h5v6h-5zM646 534h5v6h-5zM649 533h5v6h-5zM649 531h5v6h-5zM652 525h5v6h-5zM652 531h5v6h-5zM654 525h5v6h-5zM654 520h5v6h-5zM656 519h5v6h-5zM656 522h5v6h-5zM659 521h5v6h-5zM659 522h5v6h-5zM662 521h5v6h-5zM662 522h5v6h-5zM664 521h5v6h-5zM664 515h5v6h-5zM666 523h5v6h-5zM666 527h5v6h-5zM669 523h5v6h-5zM669 520h5v6h-5zM672 523h5v6h-5zM672 516h5v6h-5zM674 510h5v6h-5zM674 521h5v6h-5zM676 515h5v6h-5zM676 524h5v6h-5zM679 514h5v6h-5zM679 506h5v6h-5zM682 514h5v6h-5zM682 527h5v6h-5zM684 517h5v6h-5zM684 512h5v6h-5zM686 515h5v6h-5zM686 522h5v6h-5zM689 521h5v6h-5zM689 520h5v6h-5zM692 527h5v6h-5zM692 522h5v6h-5zM694 519h5v6h-5zM694 522h5v6h-5zM696 527h5v6h-5zM696 524h5v6h-5zM699 527h5v6h-5zM699 516h5v6h-5zM702 525h5v6h-5zM702 530h5v6h-5zM704 529h5v6h-5zM704 536h5v6h-5zM706 538h5v6h-5zM706 540h5v6h-5zM709 537h5v6h-5zM709 552h5v6h-5zM712 548h5v6h-5zM712 540h5v6h-5zM714 545h5v6h-5zM714 558h5v6h-5zM716 546h5v6h-5zM716 552h5v6h-5zM719 555h5v6h-5zM719 550h5v6h-5zM722 546h5v6h-5zM722 553h5v6h-5zM724 556h5v6h-5zM724 560h5v6h-5zM726 560h5v6h-5zM726 556h5v6h-5zM729 551h5v6h-5zM729 549h5v6h-5zM732 535h5v6h-5zM732 534h5v6h-5zM734 528h5v6h-5zM734 533h5v6h-5zM736 521h5v6h-5zM736 524h5v6h-5zM739 524h5v6h-5zM739 517h5v6h-5zM742 520h5v6h-5zM742 511h5v6h-5zM744 521h5v6h-5zM744 528h5v6h-5zM746 532h5v6h-5zM746 529h5v6h-5zM749 532h5v6h-5zM749 526h5v6h-5zM752 547h5v6h-5zM752 541h5v6h-5zM754 541h5v6h-5zM754 531h5v6h-5zM756 531h5v6h-5zM756 522h5v6h-5zM759 532h5v6h-5zM759 533h5v6h-5zM762 515h5v6h-5zM762 524h5v6h-5zM764 529h5v6h-5zM764 517h5v6h-5zM766 519h5v6h-5zM766 523h5v6h-5zM769 528h5v6h-5zM769 524h5v6h-5zM772 534h5v6h-5zM772 535h5v6h-5zM774 539h5v6h-5zM774 540h5v6h-5zM776 541h5v6h-5zM776 539h5v6h-5zM779 522h5v6h-5zM779 527h5v6h-5zM782 520h5v6h-5zM782 520h5v6h-5zM784 521h5v6h-5zM784 522h5v6h-5zM786 521h5v6h-5zM786 510h5v6h-5zM789 509h5v6h-5zM789 515h5v6h-5zM792 511h5v6h-5zM792 511h5v6h-5zM794 509h5v6h-5zM794 505h5v6h-5zM796 511h5v6h-5zM796 509h5v6h-5zM799 506h5v6h-5zM799 503h5v6h-5zM802 504h5v6h-5zM802 490h5v6h-5zM804 498h5v6h-5zM804 503h5v6h-5zM806 494h5v6h-5zM806 503h5v6h-5zM809 505h5v6h-5zM809 497h5v6h-5zM812 506h5v6h-5zM812 506h5v6h-5zM814 513h5v6h-5zM814 514h5v6h-5zM816 514h5v6h-5zM816 509h5v6h-5zM819 511h5v6h-5zM819 511h5v6h-5zM822 513h5v6h-5zM822 510h5v6h-5zM824 503h5v6h-5zM824 499h5v6h-5zM826 502h5v6h-5zM826 500h5v6h-5zM829 496h5v6h-5zM829 501h5v6h-5zM832 498h5v6h-5zM832 501h5v6h-5zM834 501h5v6h-5zM834 496h5v6h-5zM836 509h5v6h-5zM836 495h5v6h-5zM839 503h5v6h-5zM839 498h5v6h-5zM842 505h5v6h-5zM842 487h5v6h-5zM844 496h5v6h-5zM844 501h5v6h-5zM846 504h5v6h-5zM846 513h5v6h-5zM849 501h5v6h-5zM849 506h5v6h-5zM852 500h5v6h-5zM852 501h5v6h-5zM854 497h5v6h-5zM854 493h5v6h-5zM856 494h5v6h-5zM856 486h5v6h-5zM859 498h5v6h-5zM859 487h5v6h-5zM862 494h5v6h-5zM862 504h5v6h-5zM864 492h5v6h-5zM864 493h5v6h-5zM866 500h5v6h-5zM866 494h5v6h-5zM869 490h5v6h-5zM869 495h5v6h-5zM872 496h5v6h-5zM872 497h5v6h-5zM874 488h5v6h-5zM874 501h5v6h-5zM876 500h5v6h-5zM876 491h5v6h-5zM879 491h5v6h-5zM879 488h5v6h-5zM882 496h5v6h-5zM882 485h5v6h-5zM884 492h5v6h-5zM884 486h5v6h-5zM886 485h5v6h-5zM886 493h5v6h-5zM889 496h5v6h-5zM889 489h5v6h-5zM892 486h5v6h-5zM892 494h5v6h-5zM894 492h5v6h-5zM894 493h5v6h-5zM896 502h5v6h-5zM896 500h5v6h-5zM899 494h5v6h-5zM899 509h5v6h-5zM902 502h5v6h-5zM902 506h5v6h-5zM904 518h5v6h-5zM904 521h5v6h-5zM906 515h5v6h-5zM906 533h5v6h-5zM909 534h5v6h-5zM909 520h5v6h-5zM912 521h5v6h-5zM912 521h5v6h-5zM914 538h5v6h-5zM914 530h5v6h-5zM916 536h5v6h-5zM916 535h5v6h-5zM919 540h5v6h-5zM919 535h5v6h-5zM922 545h5v6h-5zM922 538h5v6h-5zM924 548h5v6h-5zM924 550h5v6h-5zM926 552h5v6h-5zM926 548h5v6h-5zM929 545h5v6h-5zM929 551h5v6h-5zM932 548h5v6h-5zM932 558h5v6h-5zM934 555h5v6h-5zM934 550h5v6h-5zM936 549h5v6h-5zM936 548h5v6h-5zM939 549h5v6h-5zM939 552h5v6h-5zM942 558h5v6h-5zM942 559h5v6h-5zM944 562h5v6h-5zM944 570h5v6h-5zM946 559h5v6h-5zM946 563h5v6h-5zM949 583h5v6h-5zM949 559h5v6h-5zM952 571h5v6h-5zM952 575h5v6h-5zM954 581h5v6h-5zM954 583h5v6h-5zM956 587h5v6h-5zM956 590h5v6h-5zM959 593h5v6h-5zM959 596h5v6h-5zM962 578h5v6h-5zM962 583h5v6h-5zM964 584h5v6h-5zM964 579h5v6h-5zM966 569h5v6h-5zM966 578h5v6h-5zM969 548h5v6h-5zM969 555h5v6h-5zM972 539h5v6h-5zM972 537h5v6h-5zM974 535h5v6h-5zM974 531h5v6h-5zM976 521h5v6h-5zM976 528h5v6h-5zM979 529h5v6h-5zM979 524h5v6h-5zM982 526h5v6h-5zM982 530h5v6h-5zM984 522h5v6h-5zM984 530h5v6h-5zM986 536h5v6h-5zM986 523h5v6h-5zM989 527h5v6h-5zM989 525h5v6h-5zM992 537h5v6h-5zM992 530h5v6h-5zM994 540h5v6h-5zM994 532h5v6h-5zM996 542h5v6h-5zM996 542h5v6h-5zM999 537h5v6h-5zM999 553h5v6h-5zM1002 550h5v6h-5zM1002 536h5v6h-5zM1004 548h5v6h-5zM1004 544h5v6h-5zM1006 539h5v6h-5zM1006 539h5v6h-5zM1009 512h5v6h-5zM1009 518h5v6h-5zM1012 514h5v6h-5zM1012 503h5v6h-5zM1014 493h5v6h-5zM1014 491h5v6h-5zM1016 485h5v6h-5zM1016 493h5v6h-5zM1019 494h5v6h-5zM1019 487h5v6h-5zM1022 484h5v6h-5zM1022 494h5v6h-5zM1024 477h5v6h-5zM1024 476h5v6h-5zM1026 479h5v6h-5zM1026 479h5v6h-5zM1029 468h5v6h-5zM1029 467h5v6h-5zM1032 472h5v6h-5zM1032 472h5v6h-5zM1034 462h5v6h-5zM1034 468h5v6h-5zM1036 464h5v6h-5zM1036 469h5v6h-5zM1039 464h5v6h-5zM1039 464h5v6h-5zM1042 461h5v6h-5zM1042 468h5v6h-5zM1044 468h5v6h-5zM1044 459h5v6h-5zM1046 465h5v6h-5zM1046 456h5v6h-5zM1049 460h5v6h-5zM1049 463h5v6h-5zM1052 466h5v6h-5zM1052 456h5v6h-5zM1054 457h5v6h-5zM1054 458h5v6h-5zM1056 448h5v6h-5zM1056 456h5v6h-5zM1059 452h5v6h-5zM1059 457h5v6h-5zM1062 448h5v6h-5zM1062 444h5v6h-5zM1064 453h5v6h-5zM1064 455h5v6h-5zM1066 449h5v6h-5zM1066 457h5v6h-5zM1069 450h5v6h-5zM1069 448h5v6h-5zM1072 453h5v6h-5zM1072 443h5v6h-5zM1074 447h5v6h-5zM1074 450h5v6h-5zM1076 454h5v6h-5zM1076 449h5v6h-5zM1079 451h5v6h-5zM1079 446h5v6h-5zM1082 451h5v6h-5zM1082 459h5v6h-5zM1084 448h5v6h-5zM1084 463h5v6h-5zM1086 449h5v6h-5zM1086 452h5v6h-5zM1089 455h5v6h-5zM1089 459h5v6h-5zM1092 448h5v6h-5zM1092 443h5v6h-5zM1094 458h5v6h-5zM1094 459h5v6h-5zM1096 458h5v6h-5zM1096 469h5v6h-5zM1099 457h5v6h-5zM1099 457h5v6h-5zM1102 461h5v6h-5zM1102 458h5v6h-5zM1104 465h5v6h-5zM1104 450h5v6h-5zM1106 456h5v6h-5zM1106 440h5v6h-5zM1109 464h5v6h-5zM1109 458h5v6h-5zM1112 467h5v6h-5zM1112 473h5v6h-5zM1114 464h5v6h-5zM1114 463h5v6h-5zM1116 463h5v6h-5zM1116 462h5v6h-5zM1119 467h5v6h-5zM1119 473h5v6h-5zM1122 475h5v6h-5zM1122 475h5v6h-5zM1124 474h5v6h-5zM1124 480h5v6h-5zM1126 475h5v6h-5zM1126 472h5v6h-5zM1129 473h5v6h-5zM1129 469h5v6h-5zM1132 462h5v6h-5zM1132 476h5v6h-5zM1134 469h5v6h-5zM1134 461h5v6h-5zM1136 470h5v6h-5zM1136 466h5v6h-5zM1139 455h5v6h-5zM1139 472h5v6h-5zM1142 464h5v6h-5zM1142 467h5v6h-5zM1144 463h5v6h-5zM1144 461h5v6h-5zM1146 452h5v6h-5zM1146 466h5v6h-5zM1149 460h5v6h-5zM1149 458h5v6h-5zM1152 461h5v6h-5zM1152 460h5v6h-5zM1154 463h5v6h-5zM1154 457h5v6h-5zM1156 459h5v6h-5zM1156 448h5v6h-5zM1159 457h5v6h-5zM1159 463h5v6h-5zM1162 466h5v6h-5zM1162 457h5v6h-5zM1164 459h5v6h-5zM1164 468h5v6h-5zM1166 458h5v6h-5zM1166 464h5v6h-5zM1169 470h5v6h-5zM1169 461h5v6h-5zM1172 468h5v6h-5zM1172 458h5v6h-5zM1174 460h5v6h-5zM1174 458h5v6h-5zM1176 455h5v6h-5zM1176 460h5v6h-5zM1179 462h5v6h-5zM1179 446h5v6h-5zM1182 443h5v6h-5zM1182 448h5v6h-5zM1184 438h5v6h-5zM1184 446h5v6h-5zM1186 445h5v6h-5zM1186 441h5v6h-5zM1189 444h5v6h-5zM1189 433h5v6h-5zM1192 444h5v6h-5zM1192 432h5v6h-5zM1194 437h5v6h-5zM1194 438h5v6h-5zM1196 440h5v6h-5zM1196 447h5v6h-5zM1199 445h5v6h-5zM1199 442h5v6h-5zM1202 449h5v6h-5zM1202 454h5v6h-5zM1204 445h5v6h-5zM1204 447h5v6h-5zM1206 450h5v6h-5zM1206 445h5v6h-5zM1209 435h5v6h-5zM1209 455h5v6h-5zM1212 451h5v6h-5zM1212 429h5v6h-5zM1214 439h5v6h-5zM1214 441h5v6h-5zM1216 443h5v6h-5zM1216 442h5v6h-5zM1219 436h5v6h-5zM1219 432h5v6h-5zM1222 437h5v6h-5zM1222 442h5v6h-5zM1224 430h5v6h-5zM1224 431h5v6h-5zM1226 435h5v6h-5zM1226 425h5v6h-5zM1229 433h5v6h-5zM1229 432h5v6h-5zM1232 435h5v6h-5zM1232 429h5v6h-5zM1234 427h5v6h-5zM1234 430h5v6h-5zM1236 433h5v6h-5zM1236 430h5v6h-5zM1239 435h5v6h-5zM1239 438h5v6h-5zM1242 442h5v6h-5zM1242 445h5v6h-5zM1244 433h5v6h-5zM1244 435h5v6h-5zM1246 426h5v6h-5zM1246 449h5v6h-5zM1249 437h5v6h-5zM1249 440h5v6h-5zM1252 445h5v6h-5zM1252 435h5v6h-5zM1254 446h5v6h-5zM1254 443h5v6h-5zM1256 436h5v6h-5zM1256 447h5v6h-5zM1259 453h5v6h-5zM1259 437h5v6h-5zM1262 450h5v6h-5zM1262 446h5v6h-5zM1264 446h5v6h-5zM1264 446h5v6h-5zM1266 449h5v6h-5zM1266 441h5v6h-5zM1269 445h5v6h-5zM1269 439h5v6h-5zM1272 443h5v6h-5zM1272 435h5v6h-5zM1274 439h5v6h-5zM1274 448h5v6h-5zM1276 442h5v6h-5zM1276 438h5v6h-5zM1279 433h5v6h-5zM1279 435h5v6h-5zM1282 440h5v6h-5zM1282 444h5v6h-5zM1284 441h5v6h-5zM1284 442h5v6h-5zM1286 439h5v6h-5zM1286 446h5v6h-5zM1289 435h5v6h-5zM1289 435h5v6h-5zM1292 440h5v6h-5zM1292 436h5v6h-5zM1294 432h5v6h-5zM1294 431h5v6h-5zM1296 431h5v6h-5zM1296 435h5v6h-5zM1299 433h5v6h-5zM1299 425h5v6h-5zM1302 433h5v6h-5zM1302 432h5v6h-5zM1304 425h5v6h-5zM1304 435h5v6h-5zM1306 429h5v6h-5zM1306 428h5v6h-5zM1309 434h5v6h-5zM1309 437h5v6h-5zM1312 426h5v6h-5zM1312 432h5v6h-5zM1314 425h5v6h-5zM1314 442h5v6h-5zM1316 428h5v6h-5zM1316 437h5v6h-5zM1319 427h5v6h-5zM1319 435h5v6h-5zM1322 443h5v6h-5zM1322 418h5v6h-5zM1324 430h5v6h-5zM1324 434h5v6h-5zM1326 433h5v6h-5zM1326 430h5v6h-5zM1329 447h5v6h-5zM1329 436h5v6h-5zM1332 429h5v6h-5zM1332 442h5v6h-5zM1334 431h5v6h-5zM1334 445h5v6h-5zM1336 441h5v6h-5zM1336 445h5v6h-5zM1339 456h5v6h-5zM1339 450h5v6h-5zM1342 448h5v6h-5zM1342 446h5v6h-5zM1344 472h5v6h-5zM1344 470h5v6h-5zM1346 473h5v6h-5zM1346 482h5v6h-5zM1349 490h5v6h-5zM1349 491h5v6h-5zM1352 485h5v6h-5zM1352 495h5v6h-5zM1354 504h5v6h-5zM1354 503h5v6h-5zM1356 506h5v6h-5zM1356 489h5v6h-5zM1359 505h5v6h-5zM1359 507h5v6h-5zM1362 523h5v6h-5zM1362 504h5v6h-5zM1364 513h5v6h-5zM1364 515h5v6h-5zM1366 524h5v6h-5zM1366 517h5v6h-5zM1369 528h5v6h-5zM1369 518h5v6h-5zM1372 525h5v6h-5zM1372 521h5v6h-5zM1374 527h5v6h-5zM1374 523h5v6h-5zM1376 521h5v6h-5zM1376 535h5v6h-5zM1379 531h5v6h-5zM1379 527h5v6h-5zM1382 531h5v6h-5zM1382 535h5v6h-5zM1384 526h5v6h-5zM1384 530h5v6h-5zM1386 535h5v6h-5zM1386 535h5v6h-5zM1389 535h5v6h-5zM1389 526h5v6h-5zM1392 547h5v6h-5zM1392 542h5v6h-5zM1394 536h5v6h-5zM1394 535h5v6h-5zM1396 533h5v6h-5zM1396 529h5v6h-5zM1399 522h5v6h-5zM1399 523h5v6h-5zM1402 520h5v6h-5zM1402 520h5v6h-5zM1404 513h5v6h-5zM1404 522h5v6h-5zM1406 508h5v6h-5zM1406 518h5v6h-5zM1409 503h5v6h-5zM1409 510h5v6h-5zM1412 502h5v6h-5zM1412 496h5v6h-5zM1414 479h5v6h-5zM1414 483h5v6h-5zM1416 480h5v6h-5zM1416 470h5v6h-5zM1419 472h5v6h-5zM1419 476h5v6h-5zM1422 469h5v6h-5zM1422 472h5v6h-5zM1424 477h5v6h-5zM1424 477h5v6h-5zM1426 479h5v6h-5zM1426 477h5v6h-5zM1429 474h5v6h-5zM1429 476h5v6h-5zM1432 476h5v6h-5zM1432 476h5v6h-5zM1434 479h5v6h-5zM1434 471h5v6h-5zM1436 480h5v6h-5zM1436 482h5v6h-5zM1439 480h5v6h-5zM1439 485h5v6h-5zM1442 490h5v6h-5zM1442 486h5v6h-5zM1444 500h5v6h-5zM1444 475h5v6h-5zM1446 490h5v6h-5zM1446 481h5v6h-5zM1449 498h5v6h-5zM1449 506h5v6h-5zM1452 481h5v6h-5zM1452 495h5v6h-5zM1454 497h5v6h-5zM1454 493h5v6h-5zM1456 498h5v6h-5zM1456 484h5v6h-5zM1459 500h5v6h-5zM1459 498h5v6h-5zM1462 496h5v6h-5zM1462 493h5v6h-5zM1464 497h5v6h-5zM1464 491h5v6h-5zM1466 493h5v6h-5zM1466 489h5v6h-5zM1469 479h5v6h-5zM1469 490h5v6h-5zM1472 490h5v6h-5zM1472 493h5v6h-5zM1474 483h5v6h-5zM1474 488h5v6h-5zM1476 490h5v6h-5zM1476 488h5v6h-5zM1479 493h5v6h-5zM1479 497h5v6h-5zM1482 481h5v6h-5zM1482 475h5v6h-5zM1484 489h5v6h-5zM1484 492h5v6h-5zM1486 490h5v6h-5zM1486 489h5v6h-5zM1489 483h5v6h-5zM1489 483h5v6h-5zM1492 493h5v6h-5zM1492 484h5v6h-5zM1494 481h5v6h-5zM1494 485h5v6h-5zM1496 509h5v6h-5zM1496 506h5v6h-5zM1499 504h5v6h-5zM1499 503h5v6h-5zM1502 516h5v6h-5zM1502 511h5v6h-5zM1504 523h5v6h-5zM1504 516h5v6h-5zM1506 513h5v6h-5zM1506 525h5v6h-5zM1509 517h5v6h-5zM1509 521h5v6h-5zM1512 521h5v6h-5zM1512 519h5v6h-5zM1514 521h5v6h-5zM1514 516h5v6h-5zM1516 509h5v6h-5zM1516 507h5v6h-5zM1519 510h5v6h-5zM1519 513h5v6h-5zM1522 520h5v6h-5zM1522 520h5v6h-5zM1524 531h5v6h-5zM1524 529h5v6h-5zM1526 533h5v6h-5zM1526 533h5v6h-5zM1529 533h5v6h-5zM1529 543h5v6h-5zM1532 551h5v6h-5zM1532 551h5v6h-5zM1534 553h5v6h-5zM1534 553h5v6h-5zM1536 559h5v6h-5zM1536 554h5v6h-5zM1539 554h5v6h-5zM1539 553h5v6h-5zM1542 547h5v6h-5zM1542 552h5v6h-5zM1544 541h5v6h-5zM1544 542h5v6h-5zM1546 539h5v6h-5zM1546 540h5v6h-5zM1549 552h5v6h-5zM1549 553h5v6h-5zM1552 544h5v6h-5zM1552 547h5v6h-5zM1554 548h5v6h-5zM1554 546h5v6h-5zM1556 545h5v6h-5zM1556 532h5v6h-5zM1559 532h5v6h-5zM1559 538h5v6h-5zM1562 539h5v6h-5zM1562 532h5v6h-5zM1564 524h5v6h-5zM1564 526h5v6h-5zM1566 521h5v6h-5zM1566 520h5v6h-5zM1569 529h5v6h-5zM1569 518h5v6h-5zM1572 518h5v6h-5zM1572 529h5v6h-5zM1574 527h5v6h-5zM1574 523h5v6h-5zM1576 526h5v6h-5zM1576 532h5v6h-5zM1579 546h5v6h-5zM1579 541h5v6h-5zM1582 545h5v6h-5zM1582 539h5v6h-5zM1584 536h5v6h-5zM1584 532h5v6h-5zM1586 530h5v6h-5zM1586 535h5v6h-5zM1589 514h5v6h-5zM1589 521h5v6h-5zM1592 515h5v6h-5zM1592 511h5v6h-5zM1594 505h5v6h-5zM1594 511h5v6h-5zM1596 510h5v6h-5zM1596 502h5v6h-5zM1599 492h5v6h-5zM1599 483h5v6h-5zM1602 491h5v6h-5zM1602 482h5v6h-5zM1604 472h5v6h-5zM1604 466h5v6h-5zM1606 469h5v6h-5zM1606 463h5v6h-5zM1609 469h5v6h-5zM1609 472h5v6h-5zM1612 469h5v6h-5zM1612 471h5v6h-5zM1614 465h5v6h-5zM1614 477h5v6h-5zM1616 467h5v6h-5zM1616 461h5v6h-5zM1619 471h5v6h-5zM1619 468h5v6h-5zM1622 469h5v6h-5zM1622 473h5v6h-5zM1624 478h5v6h-5zM1624 470h5v6h-5zM1626 478h5v6h-5zM1626 486h5v6h-5zM1629 485h5v6h-5zM1629 481h5v6h-5zM1632 487h5v6h-5zM1632 486h5v6h-5zM1634 490h5v6h-5zM1634 494h5v6h-5zM1636 494h5v6h-5zM1636 482h5v6h-5zM1639 500h5v6h-5zM1639 496h5v6h-5zM1642 509h5v6h-5zM1642 503h5v6h-5zM1644 513h5v6h-5zM1644 523h5v6h-5zM1646 510h5v6h-5zM1646 509h5v6h-5zM1649 510h5v6h-5zM1649 505h5v6h-5zM1652 509h5v6h-5zM1652 521h5v6h-5zM1654 517h5v6h-5zM1654 511h5v6h-5zM1656 513h5v6h-5zM1656 524h5v6h-5zM1659 516h5v6h-5zM1659 518h5v6h-5zM1662 520h5v6h-5zM1662 526h5v6h-5zM1664 528h5v6h-5zM1664 523h5v6h-5zM1666 517h5v6h-5zM1666 518h5v6h-5zM1669 529h5v6h-5zM1669 527h5v6h-5zM1672 522h5v6h-5zM1672 526h5v6h-5zM1674 530h5v6h-5zM1674 528h5v6h-5zM1676 530h5v6h-5zM1676 526h5v6h-5zM1679 533h5v6h-5zM1679 528h5v6h-5zM1682 546h5v6h-5zM1682 542h5v6h-5zM1684 536h5v6h-5zM1684 550h5v6h-5zM1686 550h5v6h-5zM1686 535h5v6h-5zM1689 552h5v6h-5zM1689 547h5v6h-5zM1692 548h5v6h-5zM1692 531h5v6h-5zM1694 535h5v6h-5zM1694 535h5v6h-5zM1696 528h5v6h-5zM1696 528h5v6h-5zM1699 528h5v6h-5zM1699 515h5v6h-5zM1702 511h5v6h-5zM1702 510h5v6h-5zM1704 509h5v6h-5zM1704 509h5v6h-5zM1706 512h5v6h-5zM1706 512h5v6h-5zM1709 509h5v6h-5zM1709 505h5v6h-5zM1712 505h5v6h-5zM1712 512h5v6h-5zM1714 510h5v6h-5zM1714 506h5v6h-5zM1716 502h5v6h-5zM1716 512h5v6h-5zM1719 502h5v6h-5zM1719 508h5v6h-5zM1722 512h5v6h-5zM1722 504h5v6h-5zM1724 511h5v6h-5zM1724 501h5v6h-5zM1726 513h5v6h-5zM1726 509h5v6h-5zM1729 500h5v6h-5zM1729 512h5v6h-5zM1732 503h5v6h-5zM1732 514h5v6h-5zM1734 503h5v6h-5zM1734 505h5v6h-5zM1736 506h5v6h-5zM1736 503h5v6h-5zM1739 504h5v6h-5zM1739 500h5v6h-5zM1742 505h5v6h-5zM1742 502h5v6h-5zM1744 500h5v6h-5zM1744 484h5v6h-5zM1746 502h5v6h-5zM1746 496h5v6h-5zM1749 483h5v6h-5zM1749 493h5v6h-5zM1752 492h5v6h-5zM1752 495h5v6h-5zM1754 485h5v6h-5zM1754 499h5v6h-5zM1756 491h5v6h-5zM1756 505h5v6h-5zM1759 493h5v6h-5zM1759 497h5v6h-5zM1762 489h5v6h-5zM1762 485h5v6h-5zM1764 494h5v6h-5zM1764 493h5v6h-5zM1766 493h5v6h-5zM1766 489h5v6h-5zM1769 479h5v6h-5zM1769 473h5v6h-5zM1772 480h5v6h-5zM1772 480h5v6h-5zM1774 482h5v6h-5zM1774 489h5v6h-5zM1776 491h5v6h-5zM1776 487h5v6h-5zM1779 492h5v6h-5zM1779 491h5v6h-5zM1782 499h5v6h-5zM1782 502h5v6h-5zM1784 510h5v6h-5zM1784 501h5v6h-5zM1786 503h5v6h-5zM1786 519h5v6h-5zM1789 513h5v6h-5zM1789 518h5v6h-5zM1792 505h5v6h-5zM1792 512h5v6h-5zM1794 515h5v6h-5zM1794 508h5v6h-5zM1796 514h5v6h-5zM1796 520h5v6h-5zM1799 526h5v6h-5zM1799 528h5v6h-5zM1802 519h5v6h-5zM1802 517h5v6h-5zM1804 530h5v6h-5zM1804 532h5v6h-5zM1806 532h5v6h-5zM1806 524h5v6h-5zM1809 532h5v6h-5zM1809 532h5v6h-5zM1812 528h5v6h-5zM1812 522h5v6h-5zM1814 523h5v6h-5zM1814 526h5v6h-5zM1816 516h5v6h-5zM1816 510h5v6h-5zM1819 527h5v6h-5zM1819 527h5v6h-5zM1822 531h5v6h-5zM1822 535h5v6h-5zM1824 534h5v6h-5zM1824 536h5v6h-5zM1826 544h5v6h-5zM1826 548h5v6h-5zM1829 562h5v6h-5zM1829 552h5v6h-5zM1832 572h5v6h-5zM1832 569h5v6h-5zM1834 568h5v6h-5zM1834 567h5v6h-5zM1836 575h5v6h-5zM1836 565h5v6h-5zM1839 568h5v6h-5zM1839 563h5v6h-5zM1842 574h5v6h-5zM1842 578h5v6h-5zM1844 578h5v6h-5zM1844 577h5v6h-5zM1846 578h5v6h-5zM1846 580h5v6h-5zM1849 575h5v6h-5zM1849 588h5v6h-5zM1852 583h5v6h-5zM1852 580h5v6h-5zM1854 576h5v6h-5zM1854 576h5v6h-5zM1856 580h5v6h-5zM1856 581h5v6h-5zM1859 563h5v6h-5zM1859 574h5v6h-5zM1862 564h5v6h-5zM1862 557h5v6h-5zM1864 542h5v6h-5zM1864 546h5v6h-5zM1866 537h5v6h-5zM1866 542h5v6h-5zM1869 534h5v6h-5zM1869 525h5v6h-5zM1872 534h5v6h-5zM1872 525h5v6h-5zM1874 545h5v6h-5zM1874 534h5v6h-5zM1876 544h5v6h-5zM1876 543h5v6h-5zM1879 552h5v6h-5zM1879 562h5v6h-5zM1882 566h5v6h-5zM1882 565h5v6h-5zM1884 565h5v6h-5zM1884 555h5v6h-5zM1886 562h5v6h-5zM1886 562h5v6h-5zM1889 558h5v6h-5zM1889 566h5v6h-5zM1892 544h5v6h-5zM1892 544h5v6h-5zM1894 527h5v6h-5zM1894 522h5v6h-5zM1896 524h5v6h-5zM1896 528h5v6h-5zM1899 521h5v6h-5zM1899 515h5v6h-5zM1902 505h5v6h-5zM1902 520h5v6h-5zM1904 527h5v6h-5zM1904 522h5v6h-5zM1906 531h5v6h-5zM1906 534h5v6h-5zM1909 538h5v6h-5zM1909 530h5v6h-5zM1912 544h5v6h-5zM1912 542h5v6h-5zM1914 538h5v6h-5zM1914 544h5v6h-5zM1916 546h5v6h-5zM1916 553h5v6h-5zM1919 564h5v6h-5zM1919 556h5v6h-5zM1922 560h5v6h-5zM1922 577h5v6h-5zM1924 581h5v6h-5zM1924 587h5v6h-5zM1926 580h5v6h-5zM1926 592h5v6h-5zM1929 601h5v6h-5zM1929 601h5v6h-5zM1932 592h5v6h-5zM1932 595h5v6h-5zM1934 592h5v6h-5zM1934 598h5v6h-5zM1936 588h5v6h-5zM1936 583h5v6h-5zM1939 566h5v6h-5zM1939 577h5v6h-5zM1942 564h5v6h-5zM1942 570h5v6h-5zM1944 571h5v6h-5zM1944 578h5v6h-5zM1946 578h5v6h-5zM1946 570h5v6h-5zM1949 576h5v6h-5zM1949 584h5v6h-5zM1952 574h5v6h-5zM1952 579h5v6h-5zM1954 586h5v6h-5zM1954 586h5v6h-5zM1956 585h5v6h-5zM1956 575h5v6h-5zM1959 578h5v6h-5zM1959 586h5v6h-5zM1962 580h5v6h-5zM1962 592h5v6h-5zM1964 554h5v6h-5zM1964 564h5v6h-5zM1966 533h5v6h-5zM1966 520h5v6h-5zM1969 496h5v6h-5zM1969 501h5v6h-5zM1972 494h5v6h-5zM1972 496h5v6h-5zM1974 496h5v6h-5zM1974 489h5v6h-5zM1976 494h5v6h-5zM1976 488h5v6h-5zM1979 489h5v6h-5zM1979 494h5v6h-5zM1982 488h5v6h-5zM1982 493h5v6h-5zM1984 500h5v6h-5zM1984 492h5v6h-5zM1986 492h5v6h-5zM1986 496h5v6h-5zM1989 493h5v6h-5zM1989 501h5v6h-5zM1992 491h5v6h-5zM1992 501h5v6h-5zM1994 497h5v6h-5zM1994 496h5v6h-5zM1996 514h5v6h-5zM1996 500h5v6h-5zM1999 520h5v6h-5zM1999 515h5v6h-5zM2002 525h5v6h-5zM2002 513h5v6h-5zM2004 526h5v6h-5zM2004 528h5v6h-5zM2006 517h5v6h-5zM2006 517h5v6h-5zM2009 528h5v6h-5zM2009 516h5v6h-5zM2012 511h5v6h-5zM2012 510h5v6h-5zM2014 513h5v6h-5zM2014 513h5v6h-5zM2016 510h5v6h-5zM2016 518h5v6h-5zM2019 506h5v6h-5zM2019 510h5v6h-5zM2022 513h5v6h-5zM2022 500h5v6h-5zM2024 508h5v6h-5zM2024 512h5v6h-5zM2026 493h5v6h-5zM2026 494h5v6h-5zM2029 492h5v6h-5zM2029 488h5v6h-5zM2032 499h5v6h-5zM2032 487h5v6h-5zM2034 500h5v6h-5zM2034 505h5v6h-5zM2036 490h5v6h-5zM2036 496h5v6h-5zM2039 489h5v6h-5zM2039 503h5v6h-5zM2042 496h5v6h-5zM2042 498h5v6h-5zM2044 501h5v6h-5zM2044 504h5v6h-5zM2046 500h5v6h-5zM2046 502h5v6h-5zM2049 501h5v6h-5zM2049 504h5v6h-5zM2052 504h5v6h-5zM2052 510h5v6h-5zM2054 511h5v6h-5zM2054 518h5v6h-5zM2056 542h5v6h-5zM2056 532h5v6h-5zM2059 528h5v6h-5zM2059 536h5v6h-5zM2062 526h5v6h-5zM2062 522h5v6h-5zM2064 524h5v6h-5zM2064 531h5v6h-5zM2066 525h5v6h-5zM2066 523h5v6h-5zM2069 513h5v6h-5zM2069 513h5v6h-5zM2072 520h5v6h-5zM2072 515h5v6h-5zM2074 503h5v6h-5zM2074 497h5v6h-5zM2076 498h5v6h-5zM2076 518h5v6h-5zM2079 498h5v6h-5zM2079 504h5v6h-5zM2082 504h5v6h-5zM2082 502h5v6h-5zM2084 500h5v6h-5zM2084 495h5v6h-5zM2086 494h5v6h-5zM2086 508h5v6h-5zM2089 492h5v6h-5zM2089 500h5v6h-5zM2092 484h5v6h-5zM2092 491h5v6h-5zM2094 491h5v6h-5zM2094 495h5v6h-5zM2096 481h5v6h-5zM2096 490h5v6h-5zM2099 486h5v6h-5zM2099 481h5v6h-5zM2102 484h5v6h-5zM2102 477h5v6h-5zM2104 475h5v6h-5zM2104 479h5v6h-5zM2106 466h5v6h-5zM2106 480h5v6h-5zM2109 476h5v6h-5zM2109 474h5v6h-5zM2112 481h5v6h-5zM2112 487h5v6h-5zM2114 484h5v6h-5zM2114 493h5v6h-5zM2116 484h5v6h-5zM2116 483h5v6h-5zM2119 502h5v6h-5zM2119 496h5v6h-5zM2122 506h5v6h-5zM2122 497h5v6h-5zM2124 514h5v6h-5zM2124 511h5v6h-5zM2126 519h5v6h-5zM2126 516h5v6h-5zM2129 529h5v6h-5zM2129 519h5v6h-5zM2132 511h5v6h-5zM2132 508h5v6h-5zM2134 515h5v6h-5zM2134 505h5v6h-5zM2136 498h5v6h-5zM2136 498h5v6h-5zM2139 494h5v6h-5zM2139 490h5v6h-5zM2142 496h5v6h-5zM2142 494h5v6h-5z" fill="#f7a30e"/>
<path d="M202 526h5v6h-5zM240 479h5v6h-5zM406 506h5v6h-5zM421 511h5v6h-5zM483 541h5v6h-5zM555 556h5v6h-5zM623 581h5v6h-5zM600 576h5v6h-5zM506 566h5v6h-5zM192 482h5v6h-5zM715 571h5v6h-5zM884 531h5v6h-5zM931 578h5v6h-5zM1060 486h5v6h-5zM1098 489h5v6h-5zM1122 501h5v6h-5zM1175 489h5v6h-5zM1187 474h5v6h-5zM1222 457h5v6h-5zM1222 469h5v6h-5zM1252 444h5v6h-5zM1282 472h5v6h-5zM1302 449h5v6h-5zM1314 457h5v6h-5zM1384 551h5v6h-5zM1443 519h5v6h-5zM1498 537h5v6h-5zM1535 591h5v6h-5zM1558 569h5v6h-5zM1615 504h5v6h-5zM1620 501h5v6h-5zM1682 546h5v6h-5zM1757 519h5v6h-5zM1968 521h5v6h-5zM1980 514h5v6h-5zM2015 536h5v6h-5zM2040 524h5v6h-5zM2058 569h5v6h-5zM1851 618h5v6h-5zM1927 621h5v6h-5zM1884 591h5v6h-5zM1869 559h5v6h-5zM2016 536h5v6h-5zM2042 525h5v6h-5zM2078 506h5v6h-5zM2124 526h5v6h-5zM2058 565h5v6h-5zM2102 504h5v6h-5zM194 514h5v6h-5zM199 511h5v6h-5zM264 534h5v6h-5zM273 525h5v6h-5zM310 576h5v6h-5zM320 585h5v6h-5zM353 551h5v6h-5zM367 530h5v6h-5zM390 494h5v6h-5zM407 498h5v6h-5zM413 501h5v6h-5zM419 500h5v6h-5zM452 486h5v6h-5zM473 498h5v6h-5zM512 517h5v6h-5zM537 506h5v6h-5zM569 557h5v6h-5zM594 550h5v6h-5zM605 561h5v6h-5zM609 564h5v6h-5zM614 567h5v6h-5zM639 542h5v6h-5zM645 537h5v6h-5zM695 524h5v6h-5zM719 555h5v6h-5zM758 539h5v6h-5zM767 533h5v6h-5zM809 512h5v6h-5zM849 509h5v6h-5zM855 505h5v6h-5zM874 503h5v6h-5zM889 493h5v6h-5zM925 554h5v6h-5zM945 566h5v6h-5zM990 529h5v6h-5zM1010 531h5v6h-5zM1029 478h5v6h-5zM1034 477h5v6h-5zM1045 469h5v6h-5zM1049 462h5v6h-5zM1053 469h5v6h-5zM1070 463h5v6h-5zM1073 454h5v6h-5zM1108 463h5v6h-5zM1113 469h5v6h-5zM1119 472h5v6h-5zM1130 479h5v6h-5zM1170 464h5v6h-5zM1174 462h5v6h-5zM1194 444h5v6h-5zM1204 453h5v6h-5zM1235 437h5v6h-5zM1239 441h5v6h-5zM1257 450h5v6h-5zM1262 455h5v6h-5zM1289 445h5v6h-5zM1320 442h5v6h-5zM1339 451h5v6h-5zM1349 493h5v6h-5zM1363 525h5v6h-5zM1410 519h5v6h-5zM1437 491h5v6h-5zM1454 500h5v6h-5zM1500 509h5v6h-5zM1505 525h5v6h-5zM1510 530h5v6h-5zM1533 560h5v6h-5zM1540 558h5v6h-5zM1573 528h5v6h-5zM1579 544h5v6h-5zM1609 472h5v6h-5zM1612 472h5v6h-5zM1624 482h5v6h-5zM1627 486h5v6h-5zM1669 530h5v6h-5zM1683 545h5v6h-5zM1699 528h5v6h-5zM1732 515h5v6h-5zM1740 515h5v6h-5zM1750 498h5v6h-5zM1768 488h5v6h-5zM1780 499h5v6h-5zM1794 526h5v6h-5zM1845 580h5v6h-5zM1854 591h5v6h-5zM1870 545h5v6h-5zM1904 529h5v6h-5zM1908 534h5v6h-5zM1922 582h5v6h-5zM1928 601h5v6h-5zM1955 581h5v6h-5zM1980 498h5v6h-5zM1992 502h5v6h-5zM2009 523h5v6h-5zM2025 512h5v6h-5zM2090 502h5v6h-5zM2100 488h5v6h-5zM2124 514h5v6h-5z" fill="#a0b870"/>
<path d="M191 449h6v7h-6zM219 469h6v7h-6zM219 481h6v7h-6zM238 486h6v7h-6zM252 507h6v7h-6zM201 538h6v7h-6zM279 518h6v7h-6zM368 543h6v7h-6zM301 556h6v7h-6zM299 566h6v7h-6zM324 600h6v7h-6zM324 615h6v7h-6zM344 580h6v7h-6zM356 593h6v7h-6zM421 503h6v7h-6zM453 508h6v7h-6zM478 506h6v7h-6zM503 558h6v7h-6zM513 538h6v7h-6zM540 481h6v7h-6zM585 561h6v7h-6zM629 556h6v7h-6zM652 536h6v7h-6zM689 531h6v7h-6zM679 536h6v7h-6zM759 538h6v7h-6zM774 543h6v7h-6zM781 548h6v7h-6zM821 518h6v7h-6zM866 503h6v7h-6zM876 508h6v7h-6zM901 508h6v7h-6zM903 541h6v7h-6zM908 548h6v7h-6zM923 571h6v7h-6zM950 600h6v7h-6zM955 623h6v7h-6zM1000 568h6v7h-6zM1025 506h6v7h-6zM1042 486h6v7h-6zM1070 474h6v7h-6zM1087 471h6v7h-6zM1100 476h6v7h-6zM1112 491h6v7h-6zM1187 461h6v7h-6zM1167 476h6v7h-6zM1202 479h6v7h-6zM1281 461h6v7h-6zM1311 444h6v7h-6zM1328 464h6v7h-6zM1361 508h6v7h-6zM1368 546h6v7h-6zM1401 536h6v7h-6zM1428 501h6v7h-6zM1443 511h6v7h-6zM1460 526h6v7h-6zM1495 526h6v7h-6zM1522 518h6v7h-6zM1527 556h6v7h-6zM1555 561h6v7h-6zM1612 498h6v7h-6zM1147 469h6v7h-6zM1801 491h6v7h-6zM1699 503h6v7h-6zM1719 516h6v7h-6zM1736 523h6v7h-6zM1746 508h6v7h-6zM1654 538h6v7h-6zM1647 528h6v7h-6zM1798 506h6v7h-6zM1813 536h6v7h-6zM1826 580h6v7h-6zM1843 588h6v7h-6zM1858 590h6v7h-6zM1881 578h6v7h-6zM1913 571h6v7h-6zM1925 585h6v7h-6zM1958 620h6v7h-6zM1997 491h6v7h-6zM1997 506h6v7h-6zM2027 511h6v7h-6zM2045 503h6v7h-6zM1999 491h6v7h-6zM2028 511h6v7h-6zM2119 511h6v7h-6zM203 509h6v7h-6zM212 497h6v7h-6zM230 524h6v7h-6zM241 532h6v7h-6zM247 532h6v7h-6zM253 535h6v7h-6zM292 524h6v7h-6zM299 539h6v7h-6zM312 584h6v7h-6zM324 592h6v7h-6zM326 575h6v7h-6zM342 551h6v7h-6zM349 553h6v7h-6zM364 541h6v7h-6zM385 494h6v7h-6zM395 490h6v7h-6zM399 495h6v7h-6zM401 494h6v7h-6zM422 499h6v7h-6zM432 493h6v7h-6zM445 489h6v7h-6zM464 498h6v7h-6zM482 508h6v7h-6zM500 535h6v7h-6zM502 545h6v7h-6zM507 531h6v7h-6zM545 529h6v7h-6zM554 539h6v7h-6zM565 545h6v7h-6zM653 532h6v7h-6zM659 529h6v7h-6zM671 526h6v7h-6zM682 530h6v7h-6zM703 540h6v7h-6zM723 564h6v7h-6zM742 531h6v7h-6zM747 539h6v7h-6zM779 538h6v7h-6zM784 525h6v7h-6zM788 519h6v7h-6zM797 509h6v7h-6zM828 507h6v7h-6zM833 508h6v7h-6zM837 503h6v7h-6zM860 502h6v7h-6zM863 502h6v7h-6zM915 543h6v7h-6zM936 561h6v7h-6zM949 570h6v7h-6zM957 603h6v7h-6zM962 592h6v7h-6zM993 539h6v7h-6zM1013 511h6v7h-6zM1024 492h6v7h-6zM1040 473h6v7h-6zM1063 457h6v7h-6zM1089 456h6v7h-6zM1092 464h6v7h-6zM1097 464h6v7h-6zM1104 460h6v7h-6zM1124 484h6v7h-6zM1139 474h6v7h-6zM1147 471h6v7h-6zM1155 471h6v7h-6zM1157 469h6v7h-6zM1161 470h6v7h-6zM1179 462h6v7h-6zM1188 451h6v7h-6zM1196 447h6v7h-6zM1207 446h6v7h-6zM1226 446h6v7h-6zM1249 451h6v7h-6zM1253 453h6v7h-6zM1305 441h6v7h-6zM1343 466h6v7h-6zM1355 508h6v7h-6zM1359 512h6v7h-6zM1388 546h6v7h-6zM1393 540h6v7h-6zM1398 532h6v7h-6zM1405 528h6v7h-6zM1428 485h6v7h-6zM1435 483h6v7h-6zM1450 499h6v7h-6zM1459 504h6v7h-6zM1464 500h6v7h-6zM1467 494h6v7h-6zM1474 494h6v7h-6zM1490 498h6v7h-6zM1495 497h6v7h-6zM1518 524h6v7h-6zM1521 535h6v7h-6zM1528 552h6v7h-6zM1556 547h6v7h-6zM1587 535h6v7h-6zM1601 479h6v7h-6zM1641 521h6v7h-6zM1658 525h6v7h-6zM1673 537h6v7h-6zM1691 542h6v7h-6zM1707 518h6v7h-6zM1712 516h6v7h-6zM1722 513h6v7h-6zM1753 502h6v7h-6zM1762 495h6v7h-6zM1773 496h6v7h-6zM1784 515h6v7h-6zM1786 520h6v7h-6zM1808 539h6v7h-6zM1811 532h6v7h-6zM1824 539h6v7h-6zM1837 578h6v7h-6zM1850 591h6v7h-6zM1932 598h6v7h-6zM1946 581h6v7h-6zM1957 589h6v7h-6zM1964 571h6v7h-6zM1967 506h6v7h-6zM1974 500h6v7h-6zM1985 503h6v7h-6zM1988 507h6v7h-6zM2015 521h6v7h-6zM2016 515h6v7h-6zM2032 503h6v7h-6zM2039 506h6v7h-6zM2053 523h6v7h-6zM2064 539h6v7h-6zM2072 519h6v7h-6zM2078 512h6v7h-6zM2108 489h6v7h-6zM2114 491h6v7h-6zM2116 499h6v7h-6zM2133 518h6v7h-6z" fill="#3ce6e6"/>
<rect x="191" y="321" width="6" height="6" fill="#f7a30e"/>
<rect x="191" y="479" width="8" height="8" fill="#f7a30e"/>
</svg>
<div class="cap">Messkurve zur Bestimmung der Pupillenoszillationen und daraus<br>abgeleitet der Verlauf des Pupillenunruheindex (PUI) bei einer<br><u>übermüdeten</u> Person</div><div class="ul"></div>
</body></html>
